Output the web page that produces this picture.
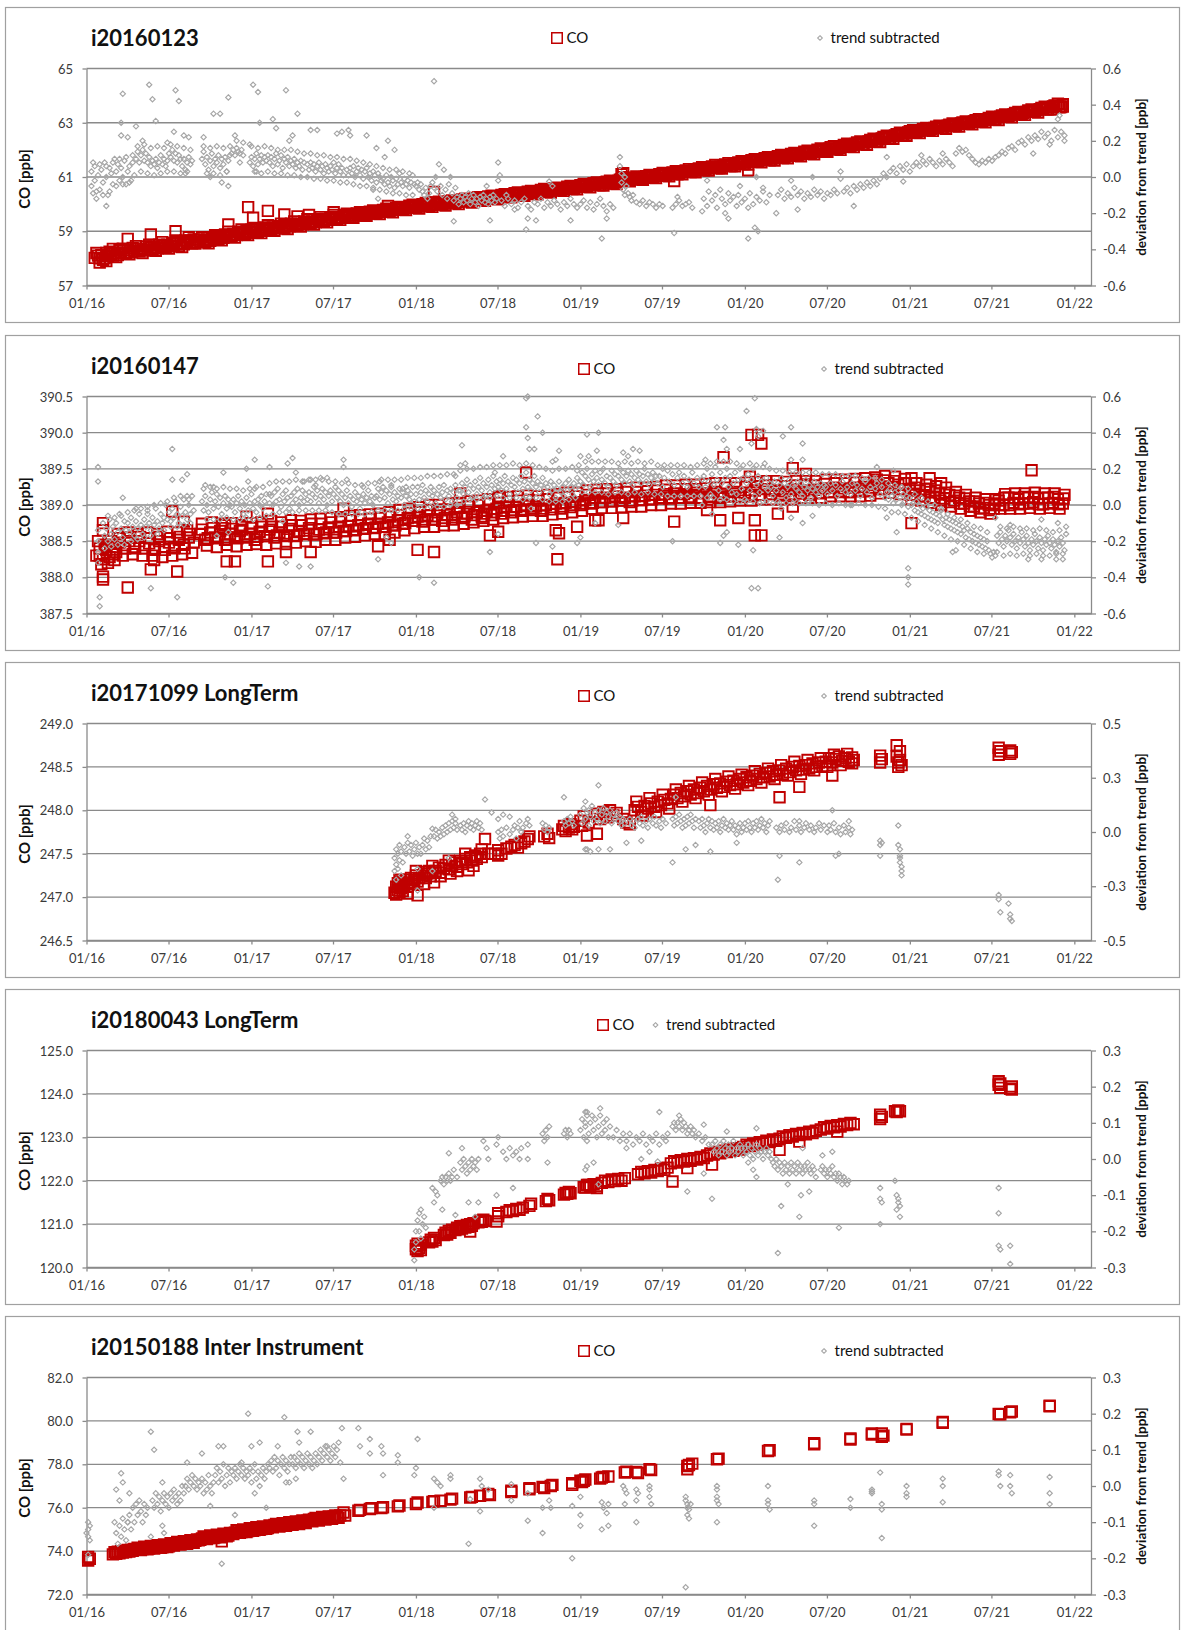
<!DOCTYPE html>
<html><head><meta charset="utf-8">
<script src="https://cdn.jsdelivr.net/npm/d3@7"></script>
<style>
body{margin:0;background:#fff}
svg text{font-family:Lato,"Open Sans","Liberation Sans",sans-serif}
</style></head>
<body><svg id="chart" width="1181" height="1630"></svg>
<script>
// x values: decimal year minus 2000 (e.g. 16.5 = mid 2016); CO on left axis [ppb]; trend on right axis [ppb]
const titles = ["i20160123","i20160147","i20171099 LongTerm","i20180043 LongTerm","i20150188 Inter Instrument"];
const seriesNames = ["CO","trend subtracted"];

const p1Left = [57,59,61,63,65];
const p1Right = [-0.6,-0.4,-0.2,0,0.2,0.4,0.6];
const p2Left = [387.5,388.0,388.5,389.0,389.5,390.0,390.5];
const p2Right = [-0.6,-0.4,-0.2,0,0.2,0.4,0.6];
const p3Left = [246.5,247.0,247.5,248.0,248.5,249.0];
const p3Right = [-0.5,-0.25,0,0.25,0.5];
const p4Left = [120,121,122,123,124,125];
const p4Right = [-0.3,-0.2,-0.1,0,0.1,0.2,0.3];
const p5Left = [72,74,76,78,80,82];
const p5Right = [-0.3,-0.2,-0.1,0,0.1,0.2,0.3];

const p1CO = [[16.05,58.02],[16.07,58.1],[16.09,58.12],[16.11,58.0],[16.13,58.08],[16.15,58.16],[16.17,58.2],[16.19,58.12],[16.21,58.22],[16.23,58.18],[16.25,58.3],[16.27,58.22],[16.29,58.27],[16.31,58.34],[16.33,58.36],[16.35,58.29],[16.37,58.33],[16.39,58.4],[16.41,58.42],[16.43,58.36],[16.45,58.4],[16.47,58.46],[16.49,58.5],[16.51,58.44],[16.53,58.47],[16.55,58.54],[16.57,58.57],[16.59,58.52],[16.61,58.6],[16.63,58.66],[16.65,58.7],[16.67,58.6],[16.69,58.62],[16.71,58.66],[16.73,58.7],[16.75,58.65],[16.77,58.72],[16.79,58.77],[16.81,58.8],[16.83,58.76],[16.85,58.82],[16.87,58.86],[16.89,58.9],[16.91,58.86],[16.93,58.93],[16.95,58.97],[16.97,59.0],[16.99,58.94],[17.01,58.98],[17.03,59.04],[17.05,59.07],[17.07,59.02],[17.09,59.08],[17.11,59.12],[17.13,59.14],[17.15,59.1],[17.17,59.15],[17.19,59.19],[17.21,59.2],[17.23,59.17],[17.25,59.22],[17.27,59.26],[17.29,59.28],[17.31,59.25],[17.33,59.3],[17.35,59.34],[17.37,59.36],[17.39,59.33],[17.41,59.4],[17.43,59.44],[17.45,59.45],[17.47,59.42],[17.49,59.5],[17.51,59.48],[17.53,59.52],[17.55,59.5],[17.57,59.56],[17.59,59.53],[17.61,59.58],[17.63,59.6],[17.65,59.62],[17.67,59.58],[17.69,59.63],[17.71,59.66],[17.73,59.68],[17.75,59.65],[17.77,59.7],[17.79,59.73],[17.81,59.75],[17.83,59.72],[17.85,59.78],[17.87,59.8],[17.89,59.82],[17.91,59.79],[17.93,59.84],[17.95,59.88],[17.97,59.9],[17.99,59.86],[18.01,59.91],[18.03,59.94],[18.05,59.95],[18.07,59.92],[18.09,59.97],[18.11,60.0],[18.13,60.0],[18.15,59.98],[18.17,60.02],[18.19,60.05],[18.21,60.06],[18.23,60.03],[18.25,60.08],[18.27,60.11],[18.29,60.12],[18.31,60.1],[18.33,60.14],[18.35,60.17],[18.37,60.18],[18.39,60.15],[18.41,60.2],[18.43,60.23],[18.45,60.22],[18.47,60.2],[18.49,60.26],[18.51,60.29],[18.53,60.28],[18.55,60.26],[18.57,60.33],[18.59,60.36],[18.61,60.35],[18.63,60.33],[18.65,60.38],[18.67,60.41],[18.69,60.4],[18.71,60.38],[18.73,60.44],[18.75,60.47],[18.77,60.47],[18.79,60.45],[18.81,60.5],[18.83,60.53],[18.85,60.52],[18.87,60.5],[18.89,60.56],[18.91,60.59],[18.93,60.58],[18.95,60.56],[18.97,60.62],[18.99,60.65],[19.01,60.66],[19.03,60.64],[19.05,60.7],[19.07,60.73],[19.09,60.72],[19.11,60.7],[19.13,60.76],[19.15,60.79],[19.17,60.78],[19.19,60.76],[19.21,60.82],[19.23,60.85],[19.25,60.92],[19.27,60.88],[19.29,60.9],[19.31,60.94],[19.33,60.93],[19.35,60.91],[19.37,60.96],[19.39,61.0],[19.41,60.99],[19.43,60.97],[19.45,61.02],[19.47,61.05],[19.49,61.06],[19.51,61.04],[19.53,61.1],[19.55,61.13],[19.57,61.12],[19.59,61.1],[19.61,61.17],[19.63,61.2],[19.65,61.2],[19.67,61.18],[19.69,61.24],[19.71,61.27],[19.73,61.27],[19.75,61.25],[19.77,61.31],[19.79,61.34],[19.81,61.35],[19.83,61.33],[19.85,61.38],[19.87,61.42],[19.89,61.42],[19.91,61.4],[19.93,61.46],[19.95,61.5],[19.97,61.5],[19.99,61.48],[20.01,61.54],[20.03,61.57],[20.05,61.58],[20.07,61.56],[20.09,61.62],[20.11,61.65],[20.13,61.64],[20.15,61.62],[20.17,61.69],[20.19,61.72],[20.21,61.72],[20.23,61.7],[20.25,61.76],[20.27,61.79],[20.29,61.8],[20.31,61.78],[20.33,61.83],[20.35,61.87],[20.37,61.88],[20.39,61.86],[20.41,61.92],[20.43,61.95],[20.45,61.96],[20.47,61.94],[20.49,62.0],[20.51,62.04],[20.53,62.05],[20.55,62.03],[20.57,62.08],[20.59,62.12],[20.61,62.14],[20.63,62.12],[20.65,62.18],[20.67,62.22],[20.69,62.22],[20.71,62.2],[20.73,62.28],[20.75,62.31],[20.77,62.33],[20.79,62.31],[20.81,62.38],[20.83,62.42],[20.85,62.44],[20.87,62.42],[20.89,62.5],[20.91,62.53],[20.93,62.55],[20.95,62.53],[20.97,62.6],[20.99,62.64],[21.01,62.66],[21.03,62.64],[21.05,62.7],[21.07,62.73],[21.09,62.74],[21.11,62.72],[21.13,62.78],[21.15,62.81],[21.17,62.82],[21.19,62.8],[21.21,62.86],[21.23,62.89],[21.25,62.9],[21.27,62.88],[21.29,62.94],[21.31,62.97],[21.33,62.98],[21.35,62.96],[21.37,63.02],[21.39,63.05],[21.41,63.06],[21.43,63.04],[21.45,63.1],[21.47,63.13],[21.49,63.14],[21.51,63.13],[21.53,63.19],[21.55,63.22],[21.57,63.23],[21.59,63.22],[21.61,63.28],[21.63,63.31],[21.65,63.32],[21.67,63.31],[21.69,63.37],[21.71,63.4],[21.73,63.42],[21.75,63.41],[21.77,63.46],[21.79,63.5],[21.81,63.52],[21.83,63.5],[21.85,63.57],[21.87,63.6],[21.89,63.62],[21.91,63.6],[21.93,63.68],[21.93,63.6],
[16.98,59.89],[17.1,59.75],[17.01,59.5],[17.2,59.62],[17.28,59.55],[16.25,58.72],[16.39,58.88],[16.54,59.0],[16.86,59.25],[18.11,60.45],[17.83,59.93],[19.26,61.14],[19.57,60.85],[20.02,61.25],[16.08,57.85],[16.12,57.9],[16.16,58.35],[17.35,59.6],[17.5,59.7],[19.25,61.1],
[16.06,58.2],[16.1,57.95],[16.14,58.25],[16.18,58.05],[16.22,58.36],[16.26,58.15],[16.3,58.45],[16.34,58.2],[16.38,58.5],[16.42,58.28],[16.46,58.6],[16.5,58.36],[16.54,58.66],[16.58,58.42],[16.62,58.78],[16.66,58.55],[16.7,58.78],[16.74,58.56],[16.78,58.85],[16.82,58.67],[16.86,58.98],[16.9,58.77],[16.94,59.07],[16.98,58.86],[17.02,59.12],[17.06,58.93],[17.1,59.22],[17.14,59.02],[17.18,59.28],[17.22,59.08],[17.26,59.36],[17.3,59.17],[17.34,59.44],[17.38,59.25],[17.42,59.52],[17.46,59.33],[17.5,59.6],[17.54,59.42],[17.58,59.65],[17.62,59.5],[17.66,59.7],[17.7,59.57],[17.74,59.77],[17.78,59.63],[17.82,59.83],[17.86,59.7],[17.9,59.9],[17.94,59.78],[17.98,59.98],[18.02,59.84],[18.06,60.04],[18.1,59.9],[18.14,60.09],[18.18,59.95],[18.22,60.14],[18.26,60.0],[18.3,60.2],[18.34,60.06],[18.38,60.26],[18.42,60.12],[18.46,60.31],[18.5,60.18],[18.54,60.37],[18.58,60.25],[18.62,60.43],[18.66,60.31],[18.7,60.49],[18.74,60.36],[18.78,60.56],[18.82,60.43],[18.86,60.61],[18.9,60.49],[18.94,60.67],[18.98,60.55],[19.02,60.74],[19.06,60.62],[19.1,60.8],[19.14,60.68],[19.18,60.86],[19.22,60.74],[19.26,60.99],[19.3,60.84],[19.34,61.02],[19.38,60.9],[19.42,61.08],[19.46,60.96],[19.5,61.15],[19.54,61.03],[19.58,61.21],[19.62,61.1],[19.66,61.29],[19.7,61.17],[19.74,61.36],[19.78,61.24],[19.82,61.44],[19.86,61.31],[19.9,61.51],[19.94,61.39],[19.98,61.58],[20.02,61.46],[20.06,61.66],[20.1,61.54],[20.14,61.73],[20.18,61.61],[20.22,61.81],[20.26,61.69],[20.3,61.89],[20.34,61.76],[20.38,61.97],[20.42,61.84],[20.46,62.05],[20.5,61.93],[20.54,62.14],[20.58,62.0],[20.62,62.23],[20.66,62.1],[20.7,62.31],[20.74,62.19],[20.78,62.41],[20.82,62.29],[20.86,62.52],[20.9,62.41],[20.94,62.63],[20.98,62.52],[21.02,62.73],[21.06,62.62],[21.1,62.81],[21.14,62.7],[21.18,62.89],[21.22,62.78],[21.26,62.97],[21.3,62.86],[21.34,63.05],[21.38,62.94],[21.42,63.13],[21.46,63.02],[21.5,63.22],[21.54,63.1],[21.58,63.31],[21.62,63.2],[21.66,63.4],[21.7,63.29],[21.74,63.49],[21.78,63.38],[21.82,63.59],[21.86,63.49],[21.9,63.7],[21.92,63.58],
[16.08,58.0],[16.12,58.2],[16.16,58.1],[16.2,58.3],[16.24,58.2],[16.28,58.38],[16.32,58.26],[16.36,58.44],[16.4,58.32],[16.44,58.5],[16.48,58.4],[16.52,58.56],[16.56,58.46],[16.6,58.66],[16.64,58.56],[16.68,58.7],[16.72,58.6],[16.76,58.78],[16.8,58.7],[16.84,58.88],[16.88,58.8],[16.92,58.98],[16.96,58.9],[17.0,59.06],[17.04,58.98],[17.08,59.14],[17.12,59.06],[17.16,59.2],[17.2,59.13],[17.24,59.28],[17.28,59.2],[17.32,59.36],[17.36,59.28],[17.4,59.44],[17.44,59.38],[17.48,59.52],[17.52,59.46],[17.56,59.6],[17.6,59.52],[17.64,59.66],[17.68,59.58],[17.72,59.72],[17.76,59.65],[17.8,59.79],[17.84,59.73],[17.88,59.86],[17.92,59.8],[17.96,59.94],[18.0,59.87],[18.04,60.0],[18.08,59.93],[18.12,60.06],[18.16,59.99],[18.2,60.11],[18.24,60.04],[18.28,60.17],[18.32,60.1],[18.36,60.23],[18.4,60.16],[18.44,60.28],[18.48,60.21],[18.52,60.34],[18.56,60.28],[18.6,60.4],[18.64,60.34],[18.68,60.46],[18.72,60.4],[18.76,60.52],[18.8,60.46],[18.84,60.58],[18.88,60.52],[18.92,60.64],[18.96,60.58],[19.0,60.7],[19.04,60.64],[19.08,60.77],[19.12,60.7],[19.16,60.83],[19.2,60.77],[19.24,60.9],[19.28,60.86],[19.32,60.97],[19.36,60.92],[19.4,61.03],[19.44,60.98],[19.48,61.1],[19.52,61.05],[19.56,61.17],[19.6,61.12],[19.64,61.24],[19.68,61.19],[19.72,61.32],[19.76,61.26],[19.8,61.39],[19.84,61.33],[19.88,61.46],[19.92,61.4],[19.96,61.54],[20.0,61.48],[20.04,61.62],[20.08,61.56],[20.12,61.69],[20.16,61.63],[20.2,61.77],[20.24,61.71],[20.28,61.85],[20.32,61.78],[20.36,61.93],[20.4,61.86],[20.44,62.01],[20.48,61.95],[20.52,62.1],[20.56,62.02],[20.6,62.18],[20.64,62.12],[20.68,62.27],[20.72,62.21],[20.76,62.37],[20.8,62.31],[20.84,62.48],[20.88,62.43],[20.92,62.58],[20.96,62.54],[21.0,62.69],[21.04,62.64],[21.08,62.77],[21.12,62.72],[21.16,62.85],[21.2,62.8],[21.24,62.93],[21.28,62.88],[21.32,63.01],[21.36,62.96],[21.4,63.09],[21.44,63.04],[21.48,63.18],[21.52,63.12],[21.56,63.27],[21.6,63.22],[21.64,63.36],[21.68,63.31],[21.72,63.45],[21.76,63.4],[21.8,63.55],[21.84,63.5],[21.88,63.64],[21.91,63.57]];

const p1Trend = [[16.03,-0.05],[16.03,0.03],[16.04,-0.09],[16.05,-0.02],[16.05,0.06],[16.06,-0.12],[16.07,0.01],[16.08,-0.07],[16.09,0.04],[16.1,-0.03],[16.11,0.08],[16.12,-0.16],[16.12,0.0],[16.13,-0.1],[16.14,0.05],[16.15,0.02],[16.16,-0.04],[16.17,0.1],[16.18,0.03],[16.19,0.07],[16.2,-0.02],[16.21,0.05],[16.22,0.0],[16.23,0.09],[16.24,-0.04],[16.25,0.03],[16.26,0.06],[16.27,-0.02],[16.28,0.08],[16.29,0.01],[16.21,0.3],[16.22,0.46],[16.21,0.23],[16.25,0.22],[16.3,0.28],[16.34,0.2],[16.3,0.1],[16.31,0.14],[16.32,0.08],[16.33,0.12],[16.34,0.15],[16.35,0.09],[16.36,0.13],[16.37,0.08],[16.38,0.11],[16.39,0.06],[16.4,0.09],[16.41,0.07],[16.42,0.1],[16.43,0.05],[16.44,0.08],[16.45,0.12],[16.46,0.07],[16.47,0.1],[16.48,0.06],[16.49,0.09],[16.5,0.13],[16.38,0.51],[16.4,0.43],[16.42,0.31],[16.49,0.19],[16.51,0.11],[16.52,0.15],[16.53,0.09],[16.54,0.13],[16.55,0.08],[16.56,0.12],[16.57,0.1],[16.58,0.06],[16.59,0.1],[16.6,0.04],[16.61,0.08],[16.62,0.11],[16.63,0.07],[16.64,0.09],[16.54,0.48],[16.56,0.42],[16.53,0.25],[16.59,0.23],[16.62,0.22],[16.6,0.02],[16.7,0.1],[16.71,0.14],[16.72,0.07],[16.73,0.11],[16.74,0.04],[16.75,0.09],[16.76,0.13],[16.77,0.06],[16.78,0.1],[16.79,0.08],[16.8,0.12],[16.81,0.05],[16.82,0.1],[16.83,0.07],[16.84,0.11],[16.85,0.03],[16.86,0.09],[16.87,0.12],[16.71,0.22],[16.77,0.35],[16.81,0.35],[16.86,0.44],[16.9,0.23],[16.75,0.0],[16.82,-0.03],[16.86,-0.05],[16.88,0.13],[16.89,0.15],[16.9,0.12],[16.91,0.16],[16.92,0.14],[16.93,0.13],[16.94,0.15],[16.95,0.12],[16.99,0.08],[17.0,0.11],[17.01,0.06],[17.02,0.1],[17.03,0.13],[17.04,0.07],[17.05,0.1],[17.06,0.12],[17.07,0.08],[17.08,0.11],[17.09,0.09],[17.1,0.12],[17.01,0.51],[17.04,0.47],[17.05,0.3],[17.03,0.03],[17.13,0.32],[17.15,0.27],[16.99,0.18],[17.11,0.08],[17.12,0.11],[17.13,0.06],[17.14,0.1],[17.15,0.13],[17.16,0.07],[17.17,0.09],[17.18,0.12],[17.19,0.05],[17.2,0.1],[17.21,0.08],[17.22,0.11],[17.23,0.06],[17.24,0.09],[17.25,0.07],[17.26,0.1],[17.27,0.05],[17.28,0.08],[17.29,0.06],[17.3,0.09],[17.31,0.04],[17.32,0.08],[17.21,0.48],[17.28,0.35],[17.25,0.23],[17.23,0.2],[17.34,0.07],[17.35,0.04],[17.36,0.08],[17.37,0.05],[17.38,0.07],[17.39,0.03],[17.4,0.06],[17.41,0.08],[17.42,0.04],[17.43,0.06],[17.44,0.02],[17.45,0.07],[17.46,0.05],[17.47,0.03],[17.48,0.06],[17.49,0.04],[17.5,0.08],[17.51,0.02],[17.52,0.05],[17.53,0.07],[17.54,0.03],[17.55,0.05],[17.56,0.01],[17.36,0.26],[17.4,0.26],[17.52,0.24],[17.55,0.25],[17.59,0.26],[17.6,0.23],[17.58,0.04],[17.59,0.01],[17.6,0.05],[17.61,0.02],[17.62,0.06],[17.63,0.0],[17.64,0.03],[17.65,0.05],[17.66,0.01],[17.67,0.04],[17.68,-0.01],[17.69,0.03],[17.7,0.05],[17.71,0.0],[17.72,0.02],[17.73,-0.02],[17.74,0.03],[17.75,0.01],[17.76,-0.03],[17.77,0.02],[17.78,0.0],[17.79,-0.02],[17.7,0.23],[17.76,0.16],[17.83,0.2],[17.87,0.15],[17.74,-0.07],[17.77,-0.12],[17.81,0.11],[17.8,-0.01],[17.81,-0.04],[17.82,0.01],[17.83,-0.03],[17.84,-0.05],[17.85,0.0],[17.86,-0.02],[17.87,-0.06],[17.88,-0.01],[17.89,-0.04],[17.9,0.02],[17.91,-0.03],[17.92,-0.05],[17.93,-0.01],[17.94,-0.04],[17.95,-0.02],[17.96,-0.06],[17.97,-0.03],[17.98,0.01],[17.99,-0.04],[18.0,-0.05],[18.01,-0.03],[18.02,-0.07],[18.03,-0.04],[18.04,-0.08],[18.05,-0.1],[18.06,-0.06],[18.07,-0.12],[18.08,-0.09],[18.09,-0.05],[18.11,0.53],[18.1,-0.03],[18.11,-0.06],[18.12,0.0],[18.13,-0.08],[18.14,0.07],[18.15,-0.05],[18.16,-0.1],[18.17,0.04],[18.18,-0.07],[18.19,-0.12],[18.2,-0.04],[18.21,0.0],[18.22,-0.09],[18.23,-0.13],[18.24,-0.06],[18.25,-0.11],[18.26,-0.15],[18.27,-0.12],[18.28,-0.1],[18.29,-0.14],[18.3,-0.11],[18.31,-0.13],[18.32,-0.09],[18.33,-0.15],[18.34,-0.12],[18.35,-0.1],[18.36,-0.14],[18.37,-0.12],[18.38,-0.16],[18.39,-0.11],[18.4,-0.13],[18.41,-0.1],[18.42,-0.14],[18.43,-0.12],[18.44,-0.15],[18.45,-0.11],[18.46,-0.13],[18.47,-0.1],[18.48,-0.14],[18.49,-0.12],[18.23,-0.245],[18.45,-0.24],[18.43,-0.05],[18.5,0.08],[18.51,0.01],[18.5,-0.02],[18.52,-0.13],[18.54,-0.16],[18.56,-0.12],[18.58,-0.15],[18.6,-0.13],[18.62,-0.17],[18.64,-0.14],[18.66,-0.12],[18.68,-0.16],[18.7,-0.18],[18.72,-0.14],[18.74,-0.15],[18.76,-0.12],[18.78,-0.17],[18.8,-0.14],[18.82,-0.16],[18.84,-0.13],[18.86,-0.15],[18.88,-0.18],[18.9,-0.14],[18.92,-0.16],[18.94,-0.12],[18.96,-0.15],[18.98,-0.17],[18.55,-0.1],[18.6,-0.18],[18.67,-0.29],[18.68,-0.23],[18.73,-0.24],[18.81,-0.025],[18.83,-0.05],[18.94,-0.24],[19.0,-0.15],[19.02,-0.13],[19.04,-0.17],[19.06,-0.14],[19.08,-0.18],[19.1,-0.15],[19.12,-0.12],[19.14,-0.16],[19.16,-0.19],[19.18,-0.15],[19.2,-0.17],[19.13,-0.34],[19.16,-0.23],[19.24,0.11],[19.24,0.06],[19.25,0.02],[19.25,-0.03],[19.26,-0.07],[19.27,0.0],[19.27,-0.1],[19.28,-0.05],[19.29,-0.09],[19.3,-0.11],[19.31,-0.13],[19.32,-0.1],[19.34,-0.14],[19.36,-0.15],[19.38,-0.13],[19.4,-0.16],[19.42,-0.14],[19.44,-0.15],[19.46,-0.17],[19.48,-0.15],[19.5,-0.16],[19.56,-0.17],[19.58,-0.15],[19.6,-0.13],[19.62,-0.16],[19.64,-0.15],[19.66,-0.14],[19.68,-0.17],[19.57,-0.31],[19.59,-0.11],[19.74,-0.19],[19.75,-0.12],[19.77,-0.16],[19.78,-0.08],[19.8,-0.13],[19.82,-0.1],[19.83,-0.17],[19.85,-0.07],[19.86,-0.12],[19.88,-0.15],[19.9,-0.09],[19.91,-0.13],[19.93,-0.11],[19.95,-0.16],[19.96,-0.1],[19.98,-0.14],[20.0,-0.12],[20.02,-0.17],[20.03,-0.09],[20.05,-0.15],[20.07,-0.11],[20.09,-0.13],[20.11,-0.08],[20.13,-0.14],[20.15,-0.1],[19.77,-0.02],[19.9,-0.23],[19.88,-0.2],[19.97,-0.05],[20.02,-0.34],[20.06,-0.28],[20.08,-0.3],[20.07,0.0],[20.11,-0.06],[20.2,-0.1],[20.22,-0.07],[20.24,-0.12],[20.26,-0.09],[20.28,-0.11],[20.3,-0.06],[20.32,-0.1],[20.34,-0.08],[20.36,-0.12],[20.38,-0.09],[20.4,-0.11],[20.42,-0.07],[20.44,-0.1],[20.46,-0.08],[20.48,-0.12],[20.5,-0.09],[20.52,-0.1],[20.54,-0.07],[20.56,-0.09],[20.19,-0.2],[20.28,-0.02],[20.41,0.0],[20.32,-0.18],[20.58,0.03],[20.58,-0.01],[20.6,-0.08],[20.62,-0.06],[20.64,-0.09],[20.66,-0.05],[20.68,-0.07],[20.7,-0.04],[20.72,-0.06],[20.74,-0.03],[20.76,-0.05],[20.78,-0.02],[20.8,-0.04],[20.82,-0.01],[20.84,0.02],[20.86,0.0],[20.66,-0.16],[20.86,0.11],[20.88,0.03],[20.9,0.05],[20.92,0.02],[20.94,0.06],[20.96,0.04],[20.98,0.07],[21.0,0.03],[21.02,0.06],[21.04,0.08],[20.96,-0.025],[21.06,0.06],[21.08,0.09],[21.1,0.07],[21.12,0.1],[21.14,0.08],[21.16,0.06],[21.18,0.09],[21.2,0.07],[21.22,0.1],[21.24,0.08],[21.26,0.06],[21.07,0.12],[21.2,0.13],[21.28,0.13],[21.3,0.16],[21.32,0.14],[21.34,0.15],[21.36,0.12],[21.38,0.1],[21.4,0.08],[21.42,0.07],[21.44,0.09],[21.46,0.08],[21.48,0.1],[21.5,0.09],[21.52,0.11],[21.54,0.12],[21.56,0.14],[21.58,0.13],[21.6,0.16],[21.62,0.17],[21.64,0.15],[21.66,0.19],[21.68,0.2],[21.7,0.18],[21.72,0.22],[21.74,0.2],[21.75,0.13],[21.76,0.23],[21.78,0.21],[21.8,0.25],[21.82,0.22],[21.84,0.24],[21.86,0.2],[21.88,0.26],[21.9,0.22],[21.92,0.25],[21.94,0.23],[21.91,0.34],[21.9,0.32],[21.94,0.2],[21.85,0.18],
[16.04,0.08],[16.06,-0.08],[16.08,0.07],[16.1,-0.1],[16.12,0.06],[16.14,-0.08],[16.16,0.08],[16.18,-0.05],[16.2,0.1],[16.22,-0.04],[16.24,0.11],[16.26,-0.03],[16.28,0.12],[16.31,0.17],[16.33,0.03],[16.35,0.18],[16.37,0.02],[16.39,0.16],[16.41,0.01],[16.43,0.17],[16.45,0.02],[16.47,0.16],[16.49,0.03],[16.51,0.18],[16.53,0.03],[16.55,0.17],[16.57,0.02],[16.59,0.16],[16.61,0.03],[16.63,0.15],[16.71,0.17],[16.73,0.02],[16.75,0.16],[16.77,0.02],[16.79,0.17],[16.81,0.01],[16.83,0.16],[16.85,0.03],[16.87,0.17],[16.91,0.2],[16.93,0.08],[16.95,0.19],[17.0,0.17],[17.02,0.03],[17.04,0.16],[17.06,0.02],[17.08,0.17],[17.1,0.03],[17.12,0.16],[17.14,0.02],[17.16,0.15],[17.18,0.02],[17.2,0.15],[17.22,0.01],[17.24,0.15],[17.26,0.01],[17.28,0.14],[17.3,0.0],[17.32,0.13],[17.34,0.0],[17.36,0.13],[17.38,-0.01],[17.4,0.12],[17.42,-0.01],[17.44,0.12],[17.46,-0.02],[17.48,0.11],[17.5,-0.02],[17.52,0.11],[17.54,-0.03],[17.56,0.1],[17.58,-0.03],[17.6,0.1],[17.62,-0.04],[17.64,0.09],[17.66,-0.05],[17.68,0.08],[17.7,-0.05],[17.72,0.07],[17.74,-0.06],[17.76,0.06],[17.78,-0.07],[17.8,0.05],[17.82,-0.08],[17.84,0.04],[17.86,-0.09],[17.88,0.04],[17.9,-0.09],[17.92,0.03],[17.94,-0.1],[17.96,0.02],[17.98,-0.1]];

const p2CO = [[16.06,388.3],[16.08,388.4],[16.1,388.25],[16.12,388.38],[16.14,388.28],[16.16,388.42],[16.18,388.35],[16.2,388.48],[16.23,388.4],[16.26,388.5],[16.29,388.42],[16.32,388.5],[16.35,388.4],[16.38,388.47],[16.41,388.38],[16.44,388.5],[16.47,388.42],[16.5,388.48],[16.53,388.4],[16.56,388.52],[16.59,388.45],[16.62,388.55],[16.65,388.48],[16.69,388.6],[16.72,388.52],[16.75,388.62],[16.78,388.55],[16.81,388.64],[16.84,388.52],[16.87,388.6],[16.9,388.55],[16.93,388.64],[16.96,388.56],[16.99,388.6],[17.02,388.52],[17.05,388.63],[17.08,388.57],[17.11,388.66],[17.14,388.55],[17.17,388.62],[17.2,388.58],[17.23,388.67],[17.26,388.57],[17.29,388.64],[17.32,388.6],[17.35,388.68],[17.38,388.59],[17.41,388.66],[17.44,388.61],[17.47,388.69],[17.5,388.62],[17.53,388.7],[17.56,388.64],[17.59,388.71],[17.62,388.65],[17.65,388.72],[17.68,388.67],[17.71,388.74],[17.74,388.68],[17.77,388.74],[17.8,388.7],[17.83,388.76],[17.86,388.72],[17.89,388.79],[17.92,388.74],[17.95,388.82],[17.98,388.78],[18.01,388.84],[18.04,388.77],[18.07,388.86],[18.1,388.8],[18.13,388.9],[18.16,388.78],[18.19,388.86],[18.22,388.8],[18.25,388.9],[18.28,388.82],[18.31,388.88],[18.34,388.8],[18.37,388.9],[18.4,388.84],[18.43,388.92],[18.46,388.86],[18.49,388.95],[18.52,388.88],[18.55,388.98],[18.58,388.9],[18.61,388.97],[18.64,388.92],[18.67,389.0],[18.7,388.93],[18.73,388.98],[18.76,388.92],[18.79,389.0],[18.82,388.94],[18.85,389.02],[18.88,388.95],[18.91,389.03],[18.94,388.97],[18.97,389.04],[19.0,389.0],[19.03,389.07],[19.06,389.02],[19.09,389.1],[19.12,389.04],[19.15,389.1],[19.18,389.05],[19.21,389.12],[19.24,389.06],[19.27,389.1],[19.3,389.04],[19.33,389.12],[19.36,389.07],[19.39,389.13],[19.42,389.08],[19.45,389.14],[19.48,389.1],[19.51,389.15],[19.54,389.09],[19.57,389.16],[19.6,389.1],[19.63,389.15],[19.66,389.11],[19.69,389.17],[19.72,389.1],[19.75,389.16],[19.78,389.12],[19.81,389.18],[19.84,389.1],[19.87,389.15],[19.9,389.12],[19.93,389.18],[19.96,389.11],[20.0,389.17],[20.03,389.12],[20.06,389.2],[20.09,389.14],[20.12,389.22],[20.15,389.15],[20.18,389.2],[20.21,389.13],[20.24,389.19],[20.27,389.15],[20.3,389.22],[20.33,389.16],[20.36,389.2],[20.39,389.14],[20.42,389.21],[20.45,389.17],[20.48,389.23],[20.51,389.18],[20.54,389.24],[20.57,389.19],[20.6,389.23],[20.63,389.18],[20.66,389.24],[20.69,389.2],[20.72,389.25],[20.75,389.19],[20.78,389.24],[20.81,389.28],[20.84,389.22],[20.87,389.3],[20.9,389.24],[20.93,389.28],[20.96,389.22],[21.0,389.2],[21.03,389.14],[21.06,389.2],[21.09,389.12],[21.12,389.18],[21.15,389.1],[21.18,389.16],[21.21,389.09],[21.24,389.14],[21.27,389.06],[21.3,389.1],[21.33,389.02],[21.36,389.05],[21.39,388.98],[21.42,389.02],[21.45,388.96],[21.48,389.0],[21.51,388.95],[21.54,389.06],[21.57,389.0],[21.6,389.1],[21.63,389.03],[21.66,389.08],[21.69,389.02],[21.72,389.1],[21.75,389.04],[21.78,389.09],[21.81,389.01],[21.84,389.1],[21.87,389.03],[21.9,389.08],[21.93,389.02],
[16.1,388.75],[16.1,388.65],[16.1,388.01],[16.1,387.97],[16.25,387.86],[16.39,388.11],[16.41,388.24],[16.55,388.08],[16.52,388.91],[16.59,388.77],[16.84,388.72],[16.85,388.22],[16.9,388.22],[16.97,388.84],[17.1,388.88],[17.1,388.22],[17.21,388.35],[17.36,388.35],[17.56,388.95],[17.77,388.43],[17.84,388.52],[18.01,388.38],[18.11,388.35],[18.27,389.16],[18.41,388.82],[18.45,388.58],[18.5,388.63],[18.51,389.12],[18.67,389.45],[18.85,388.65],[18.87,388.61],[18.86,388.25],[18.98,388.7],[19.09,388.79],[19.11,388.79],[19.26,388.82],[19.57,388.77],[19.77,388.93],[19.85,388.79],[19.96,388.82],[19.87,389.66],[20.04,389.97],[20.08,389.97],[20.1,389.85],[20.03,389.39],[20.06,388.58],[20.1,388.58],[20.06,388.79],[20.2,388.88],[20.29,389.51],[20.37,389.43],[20.29,388.98],[20.8,389.35],[21.01,389.37],[21.01,388.75],[21.12,389.37],[21.19,389.3],[21.74,389.48],
[16.07,388.5],[16.09,388.18],[16.11,388.45],[16.13,388.2],[16.15,388.5],[16.17,388.24],[16.19,388.6],[16.22,388.3],[16.25,388.62],[16.28,388.32],[16.31,388.6],[16.34,388.3],[16.37,388.62],[16.4,388.3],[16.43,388.6],[16.46,388.28],[16.49,388.63],[16.52,388.3],[16.55,388.62],[16.58,388.32],[16.61,388.65],[16.64,388.34],[16.7,388.74],[16.73,388.44],[16.76,388.76],[16.79,388.42],[16.82,388.74],[16.85,388.45],[16.88,388.75],[16.91,388.43],[16.94,388.72],[16.97,388.45],[17.0,388.75],[17.03,388.46],[17.06,388.76],[17.09,388.45],[17.12,388.78],[17.15,388.47],[17.18,388.76],[17.21,388.46],[17.24,388.79],[17.27,388.48],[17.3,388.78],[17.33,388.5],[17.36,388.8],[17.39,388.49],[17.42,388.81],[17.45,388.52],[17.48,388.82],[17.51,388.52],[17.54,388.83],[17.57,388.55],[17.6,388.85],[17.63,388.56],[17.66,388.86],[17.69,388.58],[17.72,388.87],[17.75,388.6],[17.78,388.88],[17.81,388.6],[17.84,388.9],[17.87,388.62],[17.9,388.93],[17.93,388.65],[17.96,388.95],[17.99,388.68],[18.02,388.97],[18.05,388.7],[18.08,389.0],[18.11,388.7],[18.14,389.0],[18.17,388.72],[18.2,389.02],[18.23,388.72],[18.26,389.03],[18.29,388.74],[18.32,389.05],[18.35,388.76],[18.38,389.06],[18.41,388.78],[18.44,389.08],[18.47,388.8],[18.5,389.1],[18.53,388.82],[18.56,389.11],[18.59,388.83],[18.62,389.12],[18.65,388.84],[18.68,389.13],[18.71,388.85],[18.74,389.12],[18.77,388.85],[18.8,389.14],[18.83,388.87],[18.86,389.15],[18.89,388.88],[18.92,389.17],[18.95,388.9],[18.98,389.17],[19.01,388.92],[19.04,389.2],[19.07,388.95],[19.1,389.21],[19.13,388.96],[19.16,389.22],[19.19,388.96],[19.22,389.22],[19.25,388.97],[19.28,389.23],[19.31,388.98],[19.34,389.24],[19.37,388.98],[19.4,389.24],[19.43,389.0],[19.46,389.25],[19.49,389.0],[19.52,389.27],[19.55,389.02],[19.58,389.27],[19.61,389.02],[19.64,389.28],[19.67,389.03],[19.7,389.28],[19.73,389.03],[19.76,389.29],[19.79,389.04],[19.82,389.3],[19.85,389.04],[19.88,389.3],[19.91,389.05],[19.94,389.3],[19.97,389.06],[20.01,389.31],[20.04,389.06],[20.07,389.32],[20.1,389.08],[20.13,389.33],[20.16,389.08],[20.19,389.33],[20.22,389.08],[20.25,389.32],[20.28,389.08],[20.31,389.33],[20.34,389.1],[20.37,389.33],[20.4,389.1],[20.43,389.33],[20.46,389.1],[20.49,389.35],[20.52,389.12],[20.55,389.35],[20.58,389.12],[20.61,389.35],[20.64,389.12],[20.67,389.36],[20.7,389.12],[20.73,389.37],[20.76,389.13],[20.79,389.38],[20.82,389.16],[20.85,389.4],[20.88,389.17],[20.91,389.39],[20.94,389.15],[20.97,389.36],[21.01,389.08],[21.04,389.3],[21.07,389.06],[21.1,389.28],[21.13,389.03],[21.16,389.26],[21.19,389.0],[21.22,389.24],[21.25,388.98],[21.28,389.18],[21.31,388.95],[21.34,389.14],[21.37,388.92],[21.4,389.1],[21.43,388.9],[21.46,389.08],[21.49,388.88],[21.52,389.08],[21.55,388.95],[21.58,389.15],[21.61,388.95],[21.64,389.16],[21.67,388.95],[21.7,389.16],[21.73,388.96],[21.76,389.17],[21.79,388.95],[21.82,389.16],[21.85,388.96],[21.88,389.16],[21.91,388.95],[21.94,389.14],
[16.08,388.3],[16.12,388.42],[16.16,388.32],[16.2,388.54],[16.235,388.4],[16.265,388.55],[16.295,388.4],[16.325,388.56],[16.355,388.4],[16.385,388.54],[16.415,388.4],[16.445,388.56],[16.475,388.38],[16.505,388.54],[16.535,388.42],[16.565,388.56],[16.595,388.4],[16.625,388.6],[16.7,388.66],[16.735,388.54],[16.765,388.68],[16.795,388.54],[16.825,388.68],[16.855,388.55],[16.885,388.67],[16.915,388.54],[16.945,388.66],[16.975,388.55],[17.005,388.68],[17.035,388.56],[17.065,388.7],[17.095,388.57],[17.125,388.7],[17.155,388.58],[17.185,388.7],[17.215,388.57],[17.245,388.72],[17.275,388.58],[17.305,388.72],[17.335,388.6],[17.365,388.74],[17.395,388.6],[17.425,388.74],[17.455,388.62],[17.485,388.76],[17.515,388.62],[17.545,388.77],[17.575,388.64],[17.605,388.79],[17.635,388.66],[17.665,388.8],[17.695,388.68],[17.725,388.81],[17.755,388.69],[17.785,388.82],[17.815,388.7],[17.845,388.84],[17.875,388.72],[17.905,388.86],[17.935,388.75],[17.965,388.89],[17.995,388.78],[18.025,388.9],[18.055,388.8],[18.085,388.93],[18.115,388.8],[18.145,388.94],[18.175,388.82],[18.205,388.94],[18.235,388.83],[18.265,388.96],[18.295,388.84],[18.325,388.98],[18.355,388.86],[18.385,389.0],[18.415,388.88],[18.445,389.02],[18.475,388.9],[18.505,389.03],[18.535,388.92],[18.565,389.05],[18.595,388.93],[18.625,389.06],[18.655,388.94],[18.685,389.07],[18.715,388.95],[18.745,389.06],[18.775,388.95],[18.805,389.08],[18.835,388.97],[18.865,389.1],[18.895,388.98],[18.925,389.11],[18.955,389.0],[18.985,389.12],[19.015,389.02],[19.045,389.14],[19.075,389.03],[19.105,389.16],[19.135,389.04],[19.165,389.16],[19.195,389.05],[19.225,389.17],[19.255,389.06],[19.285,389.18],[19.315,389.06],[19.345,389.18],[19.375,389.07],[19.405,389.19],[19.435,389.08],[19.465,389.2],[19.495,389.09],[19.525,389.21],[19.555,389.1],[19.585,389.22],[19.615,389.1],[19.645,389.22],[19.675,389.1],[19.705,389.22],[19.735,389.1],[19.765,389.23],[19.795,389.11],[19.825,389.24],[19.855,389.11],[19.885,389.24],[19.915,389.12],[19.945,389.24],[19.975,389.12],[20.005,389.25],[20.035,389.14],[20.065,389.26],[20.095,389.14],[20.125,389.27],[20.155,389.15],[20.185,389.27],[20.215,389.15],[20.245,389.26],[20.275,389.15],[20.305,389.27],[20.335,389.16],[20.365,389.27],[20.395,389.16],[20.425,389.27],[20.455,389.16],[20.485,389.29],[20.515,389.18],[20.545,389.3],[20.575,389.18],[20.605,389.3],[20.635,389.18],[20.665,389.31],[20.695,389.19],[20.725,389.31],[20.755,389.2],[20.785,389.32],[20.815,389.22],[20.845,389.34],[20.875,389.23],[20.905,389.33],[20.935,389.22],[20.965,389.3],[21.005,389.14],[21.035,389.24],[21.065,389.12],[21.095,389.22],[21.125,389.1],[21.155,389.2],[21.185,389.06],[21.215,389.17],[21.245,389.04],[21.275,389.13],[21.305,389.02],[21.335,389.09],[21.365,388.98],[21.395,389.05],[21.425,388.95],[21.455,389.03],[21.485,388.93],[21.515,389.02],[21.545,389.0],[21.575,389.1],[21.605,389.0],[21.635,389.1],[21.665,389.01],[21.695,389.11],[21.725,389.02],[21.755,389.11],[21.785,389.01],[21.815,389.1],[21.845,389.02],[21.875,389.11],[21.905,389.01],[21.935,389.09]];

const p2Trend = [[16.07,0.21],[16.07,0.13],[16.07,-0.14],[16.07,-0.2],[16.07,-0.26],[16.07,-0.32],[16.08,-0.51],[16.08,-0.56],[16.1,-0.1],[16.11,-0.17],[16.12,-0.13],[16.13,-0.2],[16.14,-0.08],[16.15,-0.16],[16.16,-0.12],[16.17,-0.19],[16.18,-0.1],[16.19,-0.15],[16.2,-0.05],[16.21,-0.13],[16.22,-0.18],[16.23,-0.09],[16.24,-0.14],[16.25,-0.1],[16.26,-0.15],[16.27,-0.07],[16.28,-0.12],[16.29,-0.17],[16.3,-0.09],[16.31,-0.13],[16.32,-0.05],[16.33,-0.11],[16.34,-0.16],[16.35,-0.08],[16.36,-0.12],[16.37,-0.03],[16.38,-0.1],[16.39,-0.14],[16.4,-0.07],[16.41,-0.11],[16.42,-0.02],[16.43,-0.09],[16.44,-0.13],[16.45,-0.05],[16.46,-0.1],[16.47,-0.07],[16.48,0.0],[16.49,-0.08],[16.22,0.04],[16.3,-0.02],[16.37,-0.05],[16.39,-0.46],[16.52,0.31],[16.52,0.14],[16.55,-0.51],[16.58,0.14],[16.5,-0.04],[16.51,-0.09],[16.52,-0.02],[16.53,-0.07],[16.54,0.02],[16.55,-0.05],[16.56,-0.1],[16.57,-0.01],[16.58,-0.06],[16.59,0.03],[16.6,-0.04],[16.61,-0.08],[16.62,0.0],[16.63,-0.05],[16.64,0.05],[16.65,-0.03],[16.61,0.17],[16.62,0.03],[16.7,0.02],[16.71,-0.03],[16.72,0.05],[16.73,0.0],[16.74,-0.04],[16.75,0.03],[16.76,0.07],[16.77,-0.02],[16.78,0.02],[16.79,0.06],[16.8,-0.01],[16.81,0.04],[16.82,-0.05],[16.83,0.01],[16.84,0.05],[16.85,-0.02],[16.86,0.03],[16.87,0.0],[16.72,0.11],[16.77,0.1],[16.83,0.18],[16.84,-0.4],[16.89,-0.43],[16.79,-0.17],[16.86,-0.15],[16.88,-0.01],[16.89,0.03],[16.9,-0.04],[16.91,0.01],[16.92,0.05],[16.93,-0.02],[16.94,0.02],[16.95,-0.05],[16.96,0.0],[16.97,0.04],[16.98,-0.03],[16.99,0.01],[17.0,0.06],[17.01,-0.02],[17.02,0.02],[17.03,-0.04],[17.04,0.03],[17.05,0.0],[17.06,0.05],[17.07,-0.02],[17.08,0.02],[17.09,0.06],[16.97,0.2],[17.02,0.25],[16.98,0.13],[17.02,0.09],[17.1,-0.45],[17.11,0.21],[17.11,0.06],[17.11,0.01],[17.12,0.05],[17.13,0.0],[17.14,0.07],[17.15,0.02],[17.16,0.09],[17.17,0.03],[17.18,-0.01],[17.19,0.06],[17.2,0.02],[17.21,0.08],[17.22,0.04],[17.23,-0.02],[17.24,0.05],[17.25,0.01],[17.26,0.07],[17.27,0.03],[17.28,0.09],[17.29,0.0],[17.3,0.04],[17.31,0.08],[17.32,0.02],[17.33,0.06],[17.22,0.23],[17.25,0.26],[17.27,0.18],[17.21,-0.32],[17.29,-0.34],[17.36,-0.34],[17.19,-0.09],[17.32,0.13],[17.36,0.14],[17.34,0.03],[17.35,0.07],[17.36,0.02],[17.37,0.06],[17.38,0.1],[17.39,0.04],[17.4,0.08],[17.41,0.01],[17.42,0.05],[17.43,0.09],[17.44,0.03],[17.45,0.07],[17.46,0.0],[17.47,0.05],[17.48,0.08],[17.49,0.02],[17.5,0.06],[17.51,0.1],[17.52,0.04],[17.39,0.11],[17.42,0.15],[17.46,0.15],[17.53,0.08],[17.56,0.25],[17.56,0.21],[17.58,0.14],[17.54,0.02],[17.55,0.06],[17.56,0.0],[17.57,0.04],[17.58,0.08],[17.59,0.01],[17.6,0.05],[17.61,-0.01],[17.62,0.03],[17.63,0.07],[17.64,0.02],[17.65,0.05],[17.66,-0.02],[17.67,0.03],[17.68,0.06],[17.69,0.01],[17.7,0.04],[17.71,0.08],[17.72,0.02],[17.73,0.05],[17.74,0.0],[17.75,0.04],[17.68,0.1],[17.77,-0.3],[17.78,0.13],[17.76,0.05],[17.77,0.09],[17.78,0.03],[17.79,0.07],[17.8,0.1],[17.81,0.04],[17.82,0.08],[17.83,0.01],[17.84,0.06],[17.85,0.1],[17.86,0.03],[17.87,0.07],[17.88,0.02],[17.89,0.05],[17.9,0.09],[17.91,0.04],[17.92,0.07],[17.93,0.0],[17.94,0.05],[17.95,0.08],[17.96,0.03],[17.97,0.06],[17.98,0.1],[17.99,0.02],[17.82,-0.18],[17.85,-0.21],[17.85,0.11],[17.92,0.09],[17.94,0.1],[18.02,-0.4],[18.0,0.06],[18.01,0.1],[18.02,0.03],[18.03,0.07],[18.04,0.11],[18.05,0.04],[18.06,0.08],[18.07,0.02],[18.08,0.06],[18.09,0.1],[18.1,0.05],[18.11,0.08],[18.12,0.01],[18.13,0.06],[18.14,0.1],[18.15,0.04],[18.16,0.07],[18.17,0.11],[18.18,0.03],[18.19,0.08],[18.2,0.05],[18.21,0.09],[18.22,0.02],[18.23,0.07],[18.24,0.11],[18.25,0.04],[18.26,0.08],[18.11,-0.43],[18.24,0.16],[18.28,0.33],[18.3,0.23],[18.27,0.22],[18.27,0.08],[18.28,0.12],[18.29,0.06],[18.3,0.1],[18.31,0.14],[18.32,0.07],[18.33,0.11],[18.34,0.04],[18.35,0.09],[18.36,0.13],[18.37,0.06],[18.38,0.1],[18.39,0.15],[18.4,0.08],[18.41,0.12],[18.42,0.05],[18.43,0.1],[18.44,0.14],[18.45,0.07],[18.46,0.11],[18.47,0.16],[18.48,0.09],[18.49,0.13],[18.45,-0.26],[18.5,-0.16],[18.53,0.27],[18.48,0.18],[18.5,0.1],[18.51,0.14],[18.52,0.08],[18.53,0.12],[18.54,0.16],[18.55,0.09],[18.56,0.13],[18.57,0.06],[18.58,0.11],[18.59,0.15],[18.6,0.1],[18.61,0.14],[18.62,0.07],[18.63,0.12],[18.64,0.16],[18.65,0.09],[18.66,0.13],[18.67,0.18],[18.68,0.1],[18.69,0.14],[18.7,0.08],[18.71,0.12],[18.72,0.16],[18.73,0.1],[18.74,0.13],[18.75,0.07],[18.76,0.11],[18.77,0.15],[18.78,0.09],[18.79,0.12],[18.67,0.59],[18.68,0.6],[18.68,0.37],[18.67,0.43],[18.69,0.31],[18.74,0.49],[18.77,0.4],[18.72,0.31],[18.73,-0.21],[18.83,-0.23],[18.83,0.24],[18.85,0.25],[18.87,0.3],[18.67,0.05],[18.7,-0.02],[18.8,0.1],[18.81,0.06],[18.82,0.13],[18.83,0.08],[18.84,0.11],[18.85,0.04],[18.86,0.09],[18.87,0.13],[18.88,0.07],[18.89,0.1],[18.9,0.05],[18.91,0.12],[18.92,0.08],[18.93,0.14],[18.94,0.1],[18.95,0.06],[18.96,0.12],[18.97,0.09],[18.98,0.15],[18.99,0.11],[18.98,-0.21],[18.98,0.19],[19.0,0.27],[19.04,0.39],[19.0,0.13],[19.01,0.18],[19.02,0.11],[19.03,0.16],[19.04,0.2],[19.05,0.14],[19.06,0.1],[19.07,0.17],[19.08,0.13],[19.09,0.19],[19.1,0.15],[19.11,0.11],[19.12,0.18],[19.13,0.14],[19.14,0.2],[19.15,0.12],[19.16,0.16],[19.17,0.1],[19.18,0.15],[19.19,0.19],[19.2,0.13],[19.21,0.17],[19.22,0.11],[19.23,0.16],[19.24,0.2],[19.25,0.14],[19.26,0.18],[19.27,0.12],[19.28,0.16],[19.29,0.19],[19.3,0.13],[19.31,0.17],[19.32,0.11],[19.33,0.15],[19.34,0.19],[19.35,0.14],[19.36,0.17],[19.37,0.12],[19.38,0.16],[19.39,0.2],[19.4,0.13],[19.41,0.17],[19.42,0.11],[19.43,0.15],[19.44,0.18],[19.45,0.13],[19.46,0.16],[19.11,0.4],[19.05,0.27],[19.1,0.3],[19.0,-0.18],[19.09,-0.1],[19.23,-0.11],[19.26,0.29],[19.29,0.27],[19.32,0.31],[19.36,0.3],[19.47,0.12],[19.48,0.16],[19.5,0.1],[19.51,0.15],[19.53,0.19],[19.54,0.13],[19.56,0.17],[19.57,0.11],[19.59,0.15],[19.6,0.18],[19.62,0.12],[19.63,0.16],[19.65,0.1],[19.66,0.14],[19.68,0.18],[19.69,0.12],[19.71,0.15],[19.72,0.1],[19.74,0.14],[19.56,-0.2],[19.5,0.2],[19.75,0.16],[19.76,0.1],[19.77,0.2],[19.78,0.13],[19.79,0.06],[19.8,0.17],[19.81,0.11],[19.82,0.21],[19.83,0.14],[19.84,0.08],[19.85,0.18],[19.86,0.12],[19.87,0.04],[19.88,0.15],[19.89,0.2],[19.9,0.1],[19.91,0.16],[19.92,0.07],[19.76,0.25],[19.74,0.0],[19.8,-0.05],[19.83,0.43],[19.88,0.43],[19.87,0.36],[19.89,0.31],[19.85,-0.21],[19.87,-0.17],[19.89,-0.15],[19.96,-0.22],[19.93,0.12],[19.94,0.18],[19.95,0.06],[19.96,0.14],[19.97,0.2],[19.98,0.09],[19.99,0.15],[20.0,0.03],[20.01,0.12],[20.02,0.17],[20.03,0.08],[20.04,0.14],[20.05,0.2],[20.06,0.05],[20.07,0.11],[20.08,0.16],[20.09,0.07],[20.1,0.13],[20.11,0.02],[20.12,0.1],[20.13,0.15],[20.14,0.08],[20.15,0.12],[19.97,0.31],[20.01,0.52],[20.06,0.59],[20.04,0.34],[20.07,0.42],[20.08,0.38],[20.11,0.41],[20.05,-0.25],[20.04,-0.46],[20.08,-0.46],[20.12,0.23],[20.16,0.1],[20.17,0.05],[20.18,0.13],[20.19,0.08],[20.2,0.02],[20.21,0.11],[20.22,0.15],[20.23,0.07],[20.24,0.12],[20.25,0.04],[20.26,0.1],[20.27,0.14],[20.28,0.06],[20.29,0.11],[20.3,0.03],[20.31,0.09],[20.32,0.13],[20.33,0.07],[20.34,0.12],[20.35,0.05],[20.36,0.1],[20.37,0.14],[20.38,0.08],[20.39,0.11],[20.4,0.04],[20.41,0.09],[20.42,0.13],[20.43,0.07],[20.44,0.1],[20.45,0.05],[20.46,0.12],[20.47,0.08],[20.48,0.11],[20.23,0.38],[20.28,0.43],[20.35,0.34],[20.28,0.25],[20.35,0.25],[20.28,-0.07],[20.35,-0.1],[20.41,-0.06],[20.21,-0.18],[20.22,-0.02],[20.38,0.02],[20.49,0.1],[20.5,0.06],[20.52,0.12],[20.53,0.08],[20.55,0.11],[20.56,0.05],[20.58,0.09],[20.59,0.13],[20.61,0.07],[20.62,0.1],[20.64,0.06],[20.65,0.12],[20.67,0.08],[20.68,0.11],[20.7,0.05],[20.71,0.09],[20.73,0.13],[20.74,0.07],[20.76,0.1],[20.77,0.04],[20.79,0.09],[20.8,0.12],[20.82,0.06],[20.83,0.1],[20.85,0.04],[20.8,0.21],[20.64,0.0],[20.86,-0.07],[20.86,0.07],[20.87,0.03],[20.88,0.09],[20.89,0.05],[20.9,0.01],[20.91,0.07],[20.92,0.03],[20.93,0.08],[20.94,0.04],[20.95,0.0],[20.96,0.06],[20.97,0.02],[20.98,0.05],[20.99,-0.01],[21.0,0.04],[21.01,0.0],[20.9,0.19],[20.99,-0.35],[20.99,-0.4],[20.99,-0.44],[20.92,-0.15],[21.02,0.01],[21.03,-0.03],[21.04,0.02],[21.05,-0.04],[21.06,0.0],[21.07,-0.05],[21.08,-0.02],[21.09,-0.06],[21.1,-0.01],[21.11,-0.07],[21.12,-0.03],[21.13,-0.08],[21.14,-0.04],[21.15,-0.09],[21.16,-0.05],[21.17,-0.1],[21.18,-0.06],[21.19,-0.02],[21.2,-0.08],[21.21,-0.11],[21.22,-0.07],[21.23,-0.12],[21.24,-0.08],[21.25,-0.13],[21.26,-0.09],[21.27,-0.14],[21.28,-0.1],[21.29,-0.15],[21.3,-0.11],[21.31,-0.16],[21.32,-0.12],[21.26,-0.26],[21.28,-0.25],[21.33,-0.14],[21.34,-0.18],[21.35,-0.13],[21.36,-0.19],[21.37,-0.15],[21.38,-0.2],[21.39,-0.16],[21.4,-0.21],[21.41,-0.17],[21.42,-0.22],[21.43,-0.18],[21.44,-0.23],[21.45,-0.19],[21.46,-0.24],[21.47,-0.2],[21.48,-0.25],[21.49,-0.27],[21.5,-0.29],[21.51,-0.26],[21.52,-0.28],[21.53,-0.17],[21.54,-0.21],[21.55,-0.15],[21.56,-0.19],[21.57,-0.23],[21.58,-0.17],[21.59,-0.2],[21.6,-0.14],[21.61,-0.18],[21.62,-0.22],[21.63,-0.16],[21.64,-0.2],[21.65,-0.24],[21.66,-0.18],[21.67,-0.21],[21.68,-0.15],[21.69,-0.19],[21.7,-0.23],[21.71,-0.17],[21.72,-0.21],[21.73,-0.25],[21.74,-0.19],[21.75,-0.22],[21.76,-0.16],[21.77,-0.2],[21.78,-0.24],[21.79,-0.18],[21.8,-0.21],[21.81,-0.25],[21.82,-0.19],[21.83,-0.22],[21.84,-0.17],[21.85,-0.21],[21.86,-0.24],[21.87,-0.19],[21.88,-0.22],[21.89,-0.26],[21.9,-0.2],[21.91,-0.23],[21.92,-0.18],[21.93,-0.21],[21.94,-0.25],[21.52,-0.07],[21.61,-0.11],[21.72,-0.3],[21.8,-0.3],[21.89,-0.3],[21.93,-0.3],[21.8,-0.08],[21.9,-0.1],[21.95,-0.12],
[16.11,-0.24],[16.13,-0.06],[16.15,-0.23],[16.17,-0.07],[16.19,-0.22],[16.21,-0.06],[16.23,-0.22],[16.25,-0.04],[16.27,-0.2],[16.29,-0.03],[16.31,-0.19],[16.33,-0.02],[16.35,-0.18],[16.37,-0.01],[16.39,-0.17],[16.41,0.0],[16.43,-0.16],[16.45,0.01],[16.47,-0.14],[16.49,0.02],[16.51,-0.12],[16.53,0.04],[16.55,-0.12],[16.57,0.05],[16.59,-0.11],[16.61,0.05],[16.63,-0.1],[16.71,0.09],[16.73,-0.08],[16.75,0.1],[16.77,-0.08],[16.79,0.09],[16.81,-0.08],[16.83,0.1],[16.85,-0.07],[16.87,0.09],[16.89,-0.08],[16.91,0.09],[16.93,-0.08],[16.95,0.08],[16.97,-0.07],[16.99,0.09],[17.01,-0.08],[17.03,0.1],[17.05,-0.07],[17.07,0.1],[17.09,-0.06],[17.11,0.12],[17.13,-0.05],[17.15,0.13],[17.17,-0.04],[17.19,0.13],[17.21,-0.04],[17.23,0.13],[17.25,-0.04],[17.27,0.14],[17.29,-0.03],[17.31,0.13],[17.33,-0.03],[17.35,0.14],[17.37,-0.03],[17.39,0.14],[17.41,-0.03],[17.43,0.14],[17.45,-0.03],[17.47,0.13],[17.49,-0.04],[17.51,0.13],[17.53,-0.05],[17.55,0.12],[17.57,-0.05],[17.59,0.12],[17.61,-0.05],[17.63,0.11],[17.65,-0.05],[17.67,0.11],[17.69,-0.05],[17.71,0.12],[17.73,-0.04],[17.75,0.12],[17.77,-0.03],[17.79,0.14],[17.81,-0.03],[17.83,0.14],[17.85,-0.03],[17.87,0.14],[17.89,-0.03],[17.91,0.14],[17.93,-0.02],[17.95,0.15],[17.97,-0.02],[17.99,0.15],[18.01,-0.02],[18.03,0.15],[18.05,-0.01],[18.07,0.16],[18.09,-0.01],[18.11,0.16],[18.13,-0.01],[18.15,0.16],[18.17,-0.01],[18.19,0.17],[18.21,0.0],[18.23,0.17],[18.25,0.0],[18.27,0.19],[18.29,0.02],[18.31,0.2],[18.33,0.03],[18.35,0.2],[18.37,0.03],[18.39,0.21],[18.41,0.04],[18.43,0.21],[18.45,0.04],[18.47,0.22],[18.49,0.05],[18.51,0.22],[18.53,0.04],[18.55,0.22],[18.57,0.04],[18.59,0.23],[18.61,0.04],[18.63,0.22],[18.65,0.03],[18.67,0.23],[18.69,0.04],[18.71,0.22],[18.73,0.04],[18.75,0.21],[18.77,0.03],[18.79,0.2],[18.81,0.02],[18.83,0.19],[18.85,0.02],[18.87,0.2],[18.89,0.02],[18.91,0.2],[18.93,0.03],[18.95,0.21],[18.97,0.04],[18.99,0.22],[19.01,0.07],[19.03,0.24],[19.05,0.07],[19.07,0.24],[19.09,0.07],[19.11,0.24],[19.13,0.07],[19.15,0.24],[19.17,0.06],[19.19,0.24],[19.21,0.07],[19.23,0.23],[19.25,0.07],[19.27,0.24],[19.29,0.06],[19.31,0.23],[19.33,0.07],[19.35,0.24],[19.37,0.06],[19.39,0.23],[19.41,0.07],[19.43,0.24],[19.45,0.06],[19.47,0.22],[19.49,0.06],[19.51,0.22],[19.53,0.05],[19.55,0.22],[19.57,0.05],[19.59,0.22],[19.61,0.05],[19.63,0.22],[19.65,0.05],[19.67,0.21],[19.69,0.05],[19.71,0.22],[19.73,0.05],[19.75,0.23],[19.77,0.04],[19.79,0.23],[19.81,0.04],[19.83,0.24],[19.85,0.03],[19.87,0.24],[19.89,0.03],[19.91,0.24],[19.93,0.02],[19.95,0.23],[19.97,0.02],[19.99,0.22],[20.01,0.02],[20.03,0.23],[20.05,0.02],[20.07,0.22],[20.09,0.01],[20.11,0.21],[20.13,0.02],[20.15,0.2],[20.17,0.01],[20.19,0.19],[20.21,0.01],[20.23,0.19],[20.25,0.01],[20.27,0.18],[20.29,0.01],[20.31,0.18],[20.33,0.01],[20.35,0.18],[20.37,0.01],[20.39,0.18],[20.41,0.01],[20.43,0.18],[20.45,0.0],[20.47,0.17],[20.49,0.01],[20.51,0.17],[20.53,0.0],[20.55,0.17],[20.57,0.01],[20.59,0.16],[20.61,0.0],[20.63,0.16],[20.65,0.0],[20.67,0.16],[20.69,0.01],[20.71,0.15],[20.73,0.0],[20.75,0.15],[20.77,0.0],[20.79,0.15],[20.81,-0.01],[20.83,0.14],[20.85,-0.02],[20.87,0.12],[20.89,-0.04],[20.91,0.11],[20.93,-0.04],[20.95,0.1],[20.97,-0.05],[20.99,0.09],[21.01,-0.07],[21.03,0.06],[21.05,-0.09],[21.07,0.04],[21.09,-0.11],[21.11,0.02],[21.13,-0.13],[21.15,0.0],[21.17,-0.15],[21.19,-0.03],[21.21,-0.17],[21.23,-0.05],[21.25,-0.19],[21.27,-0.07],[21.29,-0.2],[21.31,-0.08],[21.33,-0.22],[21.35,-0.1],[21.37,-0.24],[21.39,-0.12],[21.41,-0.26],[21.43,-0.13],[21.45,-0.27],[21.47,-0.15],[21.53,-0.26],[21.55,-0.12],[21.57,-0.28],[21.59,-0.13],[21.61,-0.27],[21.63,-0.12],[21.65,-0.28],[21.67,-0.13],[21.69,-0.27],[21.71,-0.13],[21.73,-0.28],[21.75,-0.14],[21.77,-0.27],[21.79,-0.13],[21.81,-0.28],[21.83,-0.14],[21.85,-0.28],[21.87,-0.15],[21.89,-0.27],[21.91,-0.14],[21.93,-0.27],[21.95,-0.16]];

const p3CO = [[17.87,247.05],[17.88,247.12],[17.88,247.03],[17.89,247.08],[17.89,247.16],[17.9,247.06],[17.9,247.13],[17.91,247.1],[17.91,247.18],[17.92,247.07],[17.93,247.14],[17.94,247.2],[17.95,247.12],[17.96,247.17],[17.97,247.22],[17.98,247.15],[17.99,247.2],[18.0,247.25],[18.01,247.18],[18.02,247.22],[18.04,247.25],[18.05,247.29],[18.06,247.22],[18.07,247.27],[18.08,247.3],[18.09,247.24],[18.1,247.28],[18.12,247.3],[18.14,247.34],[18.15,247.28],[18.17,247.33],[18.18,247.37],[18.2,247.32],[18.22,247.36],[18.24,247.4],[18.25,247.35],[18.27,247.42],[18.28,247.38],[18.3,247.44],[18.31,247.4],[18.33,247.46],[18.34,247.42],[18.36,247.48],[18.37,247.44],[18.39,247.5],[18.4,247.46],[18.44,247.5],[18.48,247.5],[18.5,247.54],[18.52,247.5],[18.55,247.56],[18.58,247.58],[18.6,247.6],[18.62,247.57],[18.64,247.62],[18.66,247.64],[18.68,247.67],[18.69,247.7],[18.78,247.7],[18.8,247.73],[18.81,247.68],[18.89,247.78],[18.9,247.82],[18.91,247.76],[18.93,247.8],[18.94,247.84],[18.95,247.78],[18.96,247.81],[18.01,247.02],[18.11,247.17],[18.21,247.27],[18.32,247.31],[18.42,247.67],[18.5,247.48],[19.0,247.88],[19.01,247.82],[19.02,247.93],[19.04,247.71],[19.05,247.86],[19.1,247.96],[19.12,247.9],[19.14,247.98],[19.16,247.92],[19.18,248.0],[19.2,247.94],[19.22,247.97],[19.1,247.73],[19.26,247.9],[19.28,247.86],[19.3,247.84],[19.33,248.0],[19.35,248.04],[19.37,247.98],[19.39,248.05],[19.41,248.02],[19.43,248.08],[19.45,248.04],[19.47,248.1],[19.49,248.06],[19.51,248.12],[19.53,248.08],[19.55,248.13],[19.57,248.18],[19.59,248.14],[19.61,248.2],[19.63,248.16],[19.65,248.22],[19.67,248.18],[19.69,248.24],[19.71,248.2],[19.73,248.26],[19.75,248.22],[19.77,248.28],[19.79,248.24],[19.81,248.3],[19.83,248.26],[19.85,248.31],[19.87,248.27],[19.89,248.33],[19.91,248.29],[19.93,248.34],[19.95,248.3],[19.97,248.36],[19.99,248.32],[20.01,248.38],[20.03,248.34],[20.05,248.4],[20.07,248.36],[20.09,248.42],[20.11,248.38],[20.13,248.43],[20.15,248.39],[20.17,248.45],[20.19,248.41],[20.21,248.46],[20.23,248.42],[20.25,248.48],[20.27,248.44],[20.29,248.5],[20.31,248.46],[20.33,248.51],[20.35,248.47],[20.37,248.52],[20.39,248.48],[20.41,248.54],[20.43,248.5],[20.45,248.55],[20.47,248.51],[20.49,248.56],[20.51,248.6],[20.53,248.55],[20.55,248.59],[20.57,248.62],[20.59,248.57],[20.61,248.6],[20.63,248.56],[20.65,248.61],[20.66,248.58],[19.79,248.06],[20.21,248.15],[20.33,248.27],[20.53,248.4],[20.82,248.63],[20.82,248.55],[20.83,248.59],[20.92,248.75],[20.92,248.62],[20.93,248.55],[20.93,248.5],[20.94,248.68],[20.94,248.58],[20.95,248.52],[21.54,248.72],[21.54,248.64],[21.55,248.68],[21.61,248.69],[21.61,248.65],[21.62,248.67],
[17.9,247.2],[17.95,247.04],[18.0,247.3],[18.05,247.15],[18.1,247.36],[18.15,247.24],[18.2,247.42],[18.25,247.3],[18.3,247.5],[18.35,247.36],[18.4,247.55],[19.34,248.1],[19.38,247.94],[19.42,248.14],[19.46,247.98],[19.5,248.18],[19.54,248.02],[19.58,248.24],[19.62,248.1],[19.66,248.28],[19.7,248.14],[19.74,248.32],[19.78,248.18],[19.82,248.36],[19.86,248.22],[19.9,248.39],[19.94,248.25],[19.98,248.41],[20.02,248.29],[20.06,248.45],[20.1,248.32],[20.14,248.48],[20.18,248.36],[20.22,248.52],[20.26,248.4],[20.3,248.56],[20.34,248.42],[20.38,248.58],[20.42,248.46],[20.46,248.6],[20.5,248.5],[20.54,248.64],[20.58,248.52],[20.62,248.65],[20.65,248.54]];

const p3Trend = [[17.87,-0.12],[17.87,-0.18],[17.88,-0.08],[17.88,-0.15],[17.88,-0.22],[17.89,-0.1],[17.89,-0.17],[17.9,-0.06],[17.9,-0.13],[17.91,-0.2],[17.91,-0.09],[17.92,-0.14],[17.93,-0.07],[17.94,-0.1],[17.95,-0.05],[17.96,-0.09],[17.97,-0.06],[17.98,-0.11],[17.99,-0.08],[18.0,-0.05],[18.01,-0.1],[18.02,-0.07],[17.95,-0.02],[18.01,-0.17],[18.01,-0.27],[18.04,-0.06],[18.05,-0.03],[18.06,-0.08],[18.07,-0.04],[18.08,-0.07],[18.09,-0.02],[18.03,-0.1],[18.11,-0.02],[18.12,0.01],[18.13,-0.03],[18.14,0.0],[18.15,-0.02],[18.16,0.02],[18.17,-0.01],[18.18,0.03],[18.19,0.0],[18.2,0.04],[18.21,0.01],[18.22,0.05],[18.23,0.02],[18.24,0.04],[18.25,0.01],[18.1,0.015],[18.1,-0.18],[18.2,-0.12],[18.22,0.08],[18.24,0.06],[18.27,0.03],[18.28,0.01],[18.29,0.04],[18.3,0.0],[18.31,0.03],[18.32,0.05],[18.33,0.02],[18.34,0.04],[18.35,0.01],[18.36,0.03],[18.37,0.05],[18.38,0.02],[18.39,0.04],[18.4,0.01],[18.42,0.15],[18.5,0.0],[18.51,-0.03],[18.52,0.01],[18.53,-0.02],[18.55,0.02],[18.57,-0.01],[18.59,0.01],[18.61,-0.03],[18.62,0.02],[18.64,0.0],[18.53,0.08],[18.57,0.07],[18.5,0.06],[18.46,0.09],[18.6,0.03],[18.63,0.05],[18.65,0.02],[18.67,0.04],[18.68,0.06],[18.69,0.03],[18.77,0.04],[18.78,0.01],[18.79,0.03],[18.8,0.0],[18.81,0.02],[18.9,0.16],[18.9,0.05],[18.91,0.03],[18.92,0.06],[18.93,0.04],[18.94,0.07],[18.95,0.05],[18.96,0.03],[19.03,0.14],[19.03,-0.08],[19.06,-0.09],[19.05,0.1],[19.0,0.08],[19.01,0.04],[19.02,0.11],[19.03,0.06],[19.04,0.09],[19.05,0.03],[19.06,0.07],[19.07,0.12],[19.08,0.05],[19.09,0.09],[19.1,0.06],[19.11,0.1],[19.12,0.04],[19.13,0.08],[19.14,0.11],[19.15,0.05],[19.16,0.09],[19.17,0.07],[19.18,0.1],[19.19,0.04],[19.2,0.08],[19.21,0.06],[19.22,0.09],[19.23,0.05],[19.24,0.07],[19.25,0.03],[19.26,0.06],[19.27,0.04],[19.11,0.215],[19.11,-0.08],[19.18,-0.08],[19.04,-0.08],[19.28,-0.05],[19.3,0.06],[19.31,0.03],[19.32,0.05],[19.33,0.02],[19.35,0.06],[19.36,0.04],[19.37,0.07],[19.38,0.03],[19.4,0.05],[19.41,0.02],[19.42,0.06],[19.44,0.04],[19.45,0.07],[19.46,0.03],[19.48,0.05],[19.49,0.02],[19.5,0.06],[19.52,0.04],[19.58,0.16],[19.56,-0.14],[19.64,-0.08],[19.37,-0.04],[19.56,0.06],[19.57,0.03],[19.58,0.07],[19.59,0.04],[19.6,0.08],[19.61,0.05],[19.62,0.02],[19.63,0.06],[19.64,0.03],[19.65,0.07],[19.66,0.04],[19.67,0.08],[19.68,0.05],[19.69,0.02],[19.7,0.06],[19.72,0.05],[19.73,0.02],[19.74,0.06],[19.75,0.03],[19.76,0.0],[19.77,0.04],[19.78,0.06],[19.79,0.02],[19.8,0.05],[19.81,0.01],[19.82,0.04],[19.83,0.02],[19.84,0.05],[19.85,0.0],[19.86,0.03],[19.87,0.06],[19.88,0.02],[19.89,0.04],[19.9,0.01],[19.91,0.03],[19.92,0.05],[19.93,0.01],[19.94,0.03],[19.95,-0.01],[19.96,0.02],[19.97,0.04],[19.98,0.0],[19.99,0.02],[19.79,-0.09],[19.95,-0.05],[19.7,-0.06],[20.0,0.04],[20.01,0.01],[20.02,0.05],[20.03,0.02],[20.04,0.0],[20.05,0.04],[20.06,0.02],[20.07,0.05],[20.08,0.01],[20.09,0.03],[20.1,0.06],[20.11,0.02],[20.12,0.04],[20.13,0.0],[20.14,0.03],[20.15,0.05],[20.19,0.02],[20.21,0.0],[20.22,0.03],[20.24,0.01],[20.25,0.04],[20.27,0.0],[20.28,0.02],[20.3,0.05],[20.31,0.01],[20.33,0.03],[20.34,0.0],[20.36,0.02],[20.37,0.04],[20.39,0.01],[20.4,0.03],[20.42,0.0],[20.43,0.02],[20.45,0.04],[20.46,0.01],[20.48,0.03],[20.21,-0.11],[20.2,-0.22],[20.33,-0.14],[20.33,0.05],[20.5,0.0],[20.51,0.03],[20.52,0.01],[20.54,0.04],[20.55,0.0],[20.57,0.02],[20.58,-0.01],[20.6,0.03],[20.61,0.0],[20.63,0.02],[20.64,-0.01],[20.65,0.01],[20.53,0.1],[20.55,-0.11],[20.57,-0.1],[20.63,0.05],[20.82,-0.04],[20.82,-0.06],[20.82,-0.11],[20.83,-0.05],[20.93,0.03],[20.93,-0.06],[20.94,-0.08],[20.94,-0.11],[20.94,-0.14],[20.95,-0.16],[20.95,-0.18],[20.95,-0.2],[20.94,-0.12],[21.54,-0.29],[21.54,-0.31],[21.55,-0.37],[21.6,-0.33],[21.61,-0.38],[21.61,-0.4],[21.62,-0.41]];

const p4CO = [[18.0,120.42],[18.0,120.5],[18.01,120.38],[18.01,120.55],[18.02,120.45],[18.03,120.52],[18.03,120.4],[18.08,120.58],[18.09,120.64],[18.1,120.6],[18.11,120.68],[18.12,120.63],[18.17,120.75],[18.18,120.8],[18.19,120.76],[18.2,120.84],[18.21,120.8],[18.22,120.87],[18.24,120.86],[18.25,120.92],[18.26,120.88],[18.27,120.95],[18.28,120.9],[18.29,120.96],[18.3,120.92],[18.31,120.98],[18.32,120.94],[18.33,121.0],[18.34,120.96],[18.35,121.02],[18.38,121.04],[18.39,121.08],[18.4,121.05],[18.41,121.1],[18.42,121.07],[18.5,121.18],[18.5,121.25],[18.55,121.28],[18.57,121.32],[18.59,121.3],[18.61,121.35],[18.63,121.33],[18.65,121.38],[18.69,121.42],[18.7,121.47],[18.79,121.53],[18.8,121.58],[18.81,121.55],[18.9,121.68],[18.91,121.72],[18.92,121.7],[18.93,121.74],[18.94,121.71],[19.02,121.85],[19.03,121.84],[19.04,121.9],[19.05,121.9],[19.06,121.86],[19.08,121.92],[19.1,121.88],[19.13,121.95],[19.15,122.0],[19.17,121.97],[19.19,122.03],[19.21,121.99],[19.23,122.04],[19.25,122.0],[19.27,122.06],[19.35,122.15],[19.37,122.2],[19.39,122.17],[19.41,122.22],[19.43,122.19],[19.45,122.25],[19.47,122.22],[19.49,122.28],[19.51,122.25],[19.53,122.3],[19.55,122.4],[19.57,122.45],[19.59,122.42],[19.61,122.47],[19.63,122.44],[19.65,122.5],[19.67,122.46],[19.69,122.52],[19.71,122.49],[19.73,122.55],[19.75,122.52],[19.77,122.58],[19.79,122.63],[19.81,122.6],[19.83,122.66],[19.85,122.63],[19.87,122.69],[19.89,122.66],[19.91,122.72],[19.93,122.69],[19.95,122.75],[19.97,122.72],[19.99,122.78],[20.01,122.83],[20.03,122.8],[20.05,122.86],[20.07,122.83],[20.09,122.89],[20.11,122.86],[20.13,122.92],[20.15,122.89],[20.17,122.95],[20.19,122.92],[20.21,122.97],[20.23,123.02],[20.25,122.99],[20.27,123.05],[20.29,123.02],[20.31,123.08],[20.33,123.05],[20.35,123.1],[20.37,123.07],[20.39,123.13],[20.41,123.1],[20.43,123.15],[20.46,123.18],[20.48,123.23],[20.5,123.2],[20.52,123.26],[20.54,123.23],[20.56,123.28],[20.58,123.25],[20.6,123.31],[20.62,123.28],[20.64,123.33],[20.66,123.3],[20.82,123.52],[20.82,123.42],[20.83,123.47],[20.91,123.6],[20.92,123.58],[20.93,123.62],[20.94,123.6],[21.54,124.29],[21.54,124.21],[21.55,124.14],[21.55,124.24],[21.61,124.12],[21.62,124.17],[21.62,124.1],[19.56,121.98],[19.65,122.29],[19.8,122.37],[20.21,122.71],[20.33,122.9],[20.56,123.13],[19.1,121.83],[18.33,120.83],[18.49,121.06]];

const p4Trend = [[17.99,-0.28],[17.99,-0.25],[18.0,-0.23],[18.0,-0.2],[18.01,-0.17],[18.02,-0.2],[18.02,-0.15],[18.03,-0.22],[18.04,-0.18],[18.05,-0.16],[18.06,-0.19],[18.03,-0.14],[18.1,-0.08],[18.11,-0.12],[18.12,-0.09],[18.13,-0.1],[18.15,-0.06],[18.16,-0.05],[18.17,-0.07],[18.18,-0.05],[18.19,-0.06],[18.2,-0.04],[18.21,-0.06],[18.22,-0.05],[18.23,-0.03],[18.25,-0.05],[18.16,-0.14],[18.2,0.016],[18.24,-0.155],[18.27,-0.01],[18.28,-0.03],[18.29,0.0],[18.3,-0.02],[18.31,-0.04],[18.32,-0.01],[18.33,-0.03],[18.34,0.0],[18.35,-0.02],[18.36,-0.01],[18.37,-0.03],[18.38,0.0],[18.28,0.03],[18.32,-0.12],[18.38,-0.12],[18.36,-0.16],[18.41,0.05],[18.43,0.03],[18.44,0.0],[18.5,0.06],[18.49,0.04],[18.49,-0.1],[18.53,0.02],[18.55,0.0],[18.57,0.03],[18.59,0.01],[18.61,0.02],[18.63,0.0],[18.64,0.03],[18.59,-0.08],[18.68,0.04],[18.68,0.0],[18.77,0.07],[18.78,0.05],[18.79,0.08],[18.8,0.06],[18.81,0.09],[18.8,-0.01],[18.9,0.07],[18.91,0.08],[18.92,0.06],[18.93,0.08],[18.94,0.07],[19.03,0.13],[19.03,0.09],[19.03,-0.03],[19.04,0.05],[19.0,0.08],[19.01,0.11],[19.02,0.06],[19.03,0.1],[19.04,0.12],[19.05,0.07],[19.06,0.1],[19.07,0.12],[19.08,0.08],[19.09,0.11],[19.1,0.06],[19.11,0.09],[19.12,0.12],[19.13,0.07],[19.14,0.1],[19.15,0.08],[19.16,0.11],[19.17,0.06],[19.18,0.09],[19.04,-0.02],[19.11,-0.07],[19.04,0.13],[19.12,0.14],[19.08,-0.01],[19.2,0.06],[19.22,0.08],[19.24,0.05],[19.26,0.07],[19.28,0.05],[19.3,0.07],[19.32,0.04],[19.34,0.06],[19.28,0.03],[19.36,0.05],[19.38,0.07],[19.4,0.04],[19.42,0.06],[19.44,0.05],[19.46,0.07],[19.48,0.04],[19.5,0.06],[19.52,0.05],[19.53,0.07],[19.48,0.13],[19.47,-0.007],[19.37,0.0],[19.42,0.02],[19.56,0.09],[19.57,0.1],[19.58,0.08],[19.59,0.1],[19.6,0.09],[19.61,0.11],[19.62,0.08],[19.63,0.1],[19.64,0.09],[19.65,0.07],[19.66,0.08],[19.67,0.09],[19.68,0.07],[19.69,0.08],[19.65,-0.09],[19.6,0.12],[19.7,0.06],[19.72,0.07],[19.74,0.05],[19.76,0.06],[19.78,0.04],[19.75,0.095],[19.75,-0.04],[19.8,-0.11],[19.8,0.04],[19.81,0.02],[19.82,0.05],[19.83,0.03],[19.84,0.01],[19.85,0.04],[19.86,0.02],[19.87,0.05],[19.88,0.03],[19.89,0.01],[19.9,0.04],[19.91,0.02],[19.92,0.03],[19.93,0.05],[19.94,0.01],[19.95,0.03],[19.96,0.02],[19.97,0.04],[19.89,0.076],[19.98,0.03],[19.99,0.01],[20.0,0.03],[20.01,0.02],[20.02,0.04],[20.03,0.01],[20.04,0.03],[20.05,0.0],[20.06,0.02],[20.07,0.04],[20.08,0.01],[20.09,0.03],[20.1,0.02],[20.11,0.0],[20.12,0.02],[20.13,0.03],[20.14,0.01],[20.15,0.02],[20.16,0.0],[20.07,0.085],[20.05,-0.03],[20.02,-0.01],[20.07,-0.05],[20.17,-0.01],[20.18,-0.02],[20.19,0.0],[20.2,-0.03],[20.21,-0.01],[20.22,-0.02],[20.23,-0.04],[20.24,-0.01],[20.25,-0.03],[20.26,-0.02],[20.27,-0.04],[20.28,-0.01],[20.29,-0.03],[20.2,-0.26],[20.22,-0.13],[20.26,-0.07],[20.3,-0.02],[20.31,-0.04],[20.32,-0.01],[20.33,-0.03],[20.34,-0.02],[20.35,-0.04],[20.36,-0.02],[20.37,-0.03],[20.38,-0.01],[20.39,-0.03],[20.4,-0.04],[20.41,-0.02],[20.42,-0.03],[20.43,-0.05],[20.34,-0.1],[20.33,-0.16],[20.39,-0.09],[20.35,0.03],[20.46,-0.03],[20.47,-0.02],[20.48,-0.04],[20.49,-0.03],[20.5,-0.05],[20.51,-0.03],[20.52,-0.04],[20.53,-0.02],[20.54,-0.05],[20.55,-0.04],[20.56,-0.06],[20.57,-0.04],[20.58,-0.05],[20.59,-0.07],[20.6,-0.05],[20.61,-0.06],[20.62,-0.07],[20.63,-0.06],[20.57,-0.19],[20.53,0.02],[20.47,0.01],[20.82,-0.08],[20.82,-0.11],[20.83,-0.12],[20.82,-0.18],[20.91,-0.06],[20.92,-0.1],[20.93,-0.11],[20.93,-0.12],[20.94,-0.13],[20.92,-0.14],[20.94,-0.16],[21.54,-0.08],[21.54,-0.15],[21.54,-0.24],[21.55,-0.25],[21.61,-0.24],[21.61,-0.29]];

const p5CO = [[16.01,73.73],[16.01,73.57],[16.02,73.65],[16.16,73.85],[16.17,73.95],[16.18,73.88],[16.19,73.97],[16.2,73.9],[16.21,74.0],[16.22,73.93],[16.23,74.02],[16.24,73.96],[16.25,74.05],[16.26,73.98],[16.27,74.07],[16.28,74.01],[16.29,74.1],[16.3,74.06],[16.32,74.12],[16.34,74.09],[16.36,74.15],[16.38,74.12],[16.4,74.18],[16.42,74.15],[16.44,74.22],[16.46,74.18],[16.48,74.25],[16.5,74.22],[16.52,74.3],[16.54,74.36],[16.56,74.33],[16.58,74.4],[16.6,74.37],[16.62,74.44],[16.64,74.4],[16.66,74.47],[16.68,74.5],[16.7,74.58],[16.72,74.64],[16.74,74.6],[16.76,74.68],[16.78,74.64],[16.8,74.72],[16.82,74.68],[16.84,74.76],[16.86,74.72],[16.88,74.8],[16.9,74.85],[16.92,74.92],[16.94,74.88],[16.96,74.95],[16.98,74.92],[17.0,75.0],[17.02,74.97],[17.04,75.05],[17.06,75.02],[17.08,75.1],[17.1,75.06],[17.12,75.14],[17.14,75.2],[17.16,75.17],[17.18,75.24],[17.2,75.21],[17.22,75.28],[17.24,75.25],[17.26,75.32],[17.28,75.29],[17.3,75.36],[17.32,75.33],[17.34,75.4],[17.36,75.42],[17.38,75.48],[17.4,75.45],[17.42,75.52],[17.44,75.49],[17.46,75.56],[17.48,75.53],[17.5,75.6],[17.52,75.57],[17.54,75.64],[17.56,75.78],[17.57,75.64],[16.82,74.45],[17.65,75.86],[17.66,75.9],[17.72,75.94],[17.73,75.98],[17.79,75.98],[17.8,76.02],[17.89,76.06],[17.9,76.1],[18.0,76.17],[18.01,76.24],[18.1,76.27],[18.11,76.3],[18.15,76.32],[18.21,76.37],[18.22,76.42],[18.33,76.47],[18.34,76.5],[18.39,76.55],[18.44,76.63],[18.45,76.58],[18.58,76.78],[18.58,76.72],[18.69,76.85],[18.69,76.9],[18.77,76.96],[18.78,76.9],[18.82,77.0],[18.83,77.05],[18.95,77.13],[18.95,77.05],[19.0,77.24],[19.01,77.18],[19.12,77.34],[19.02,77.24],[19.03,77.3],[19.13,77.39],[19.14,77.42],[19.17,77.44],[19.27,77.62],[19.28,77.66],[19.34,77.65],[19.35,77.6],[19.42,77.77],[19.43,77.74],[19.65,77.92],[19.65,77.77],[19.66,77.97],[19.68,78.03],[19.83,78.23],[19.84,78.26],[20.14,78.61],[20.15,78.65],[20.42,78.92],[20.42,78.97],[20.64,79.19],[20.64,79.14],[20.77,79.37],[20.77,79.42],[20.83,79.42],[20.83,79.27],[20.84,79.32],[20.98,79.63],[20.98,79.6],[21.2,79.91],[21.2,79.95],[21.54,80.32],[21.55,80.3],[21.61,80.4],[21.62,80.43],[21.85,80.67],[21.85,80.7],
[16.31,74.16],[16.33,74.05],[16.35,74.2],[16.37,74.08],[16.39,74.24],[16.41,74.12],[16.43,74.27],[16.45,74.15],[16.47,74.31],[16.49,74.19],[16.51,74.36],[16.53,74.26],[16.55,74.42],[16.57,74.3],[16.59,74.46],[16.61,74.34],[16.63,74.5],[16.65,74.38],[16.67,74.54],[16.69,74.52],[16.71,74.68],[16.73,74.56],[16.75,74.72],[16.77,74.6],[16.79,74.76],[16.81,74.64],[16.83,74.8],[16.85,74.68],[16.87,74.84],[16.89,74.78],[16.91,74.96],[16.93,74.84],[16.95,75.0],[16.97,74.88],[16.99,75.05],[17.01,74.93],[17.03,75.1],[17.05,74.98],[17.07,75.14],[17.09,75.03],[17.11,75.18],[17.13,75.1],[17.15,75.25],[17.17,75.13],[17.19,75.29],[17.21,75.17],[17.23,75.33],[17.25,75.21],[17.27,75.37],[17.29,75.25],[17.31,75.41],[17.33,75.29],[17.35,75.45],[17.37,75.37],[17.39,75.53],[17.41,75.41],[17.43,75.57],[17.45,75.45],[17.47,75.6],[17.49,75.49],[17.51,75.64],[17.53,75.53]];

const p5Trend = [[16.01,-0.1],[16.01,-0.12],[16.01,-0.14],[16.02,-0.15],[16.01,-0.19],[16.02,-0.11],[16.0,-0.13],[16.17,-0.1],[16.18,-0.13],[16.19,-0.16],[16.2,-0.11],[16.21,-0.14],[16.22,-0.09],[16.23,-0.12],[16.24,-0.15],[16.25,-0.1],[16.21,0.035],[16.22,0.01],[16.18,-0.01],[16.2,-0.04],[16.26,-0.08],[16.27,-0.12],[16.28,-0.06],[16.29,-0.1],[16.3,-0.05],[16.31,-0.08],[16.32,-0.04],[16.33,-0.07],[16.34,-0.1],[16.35,-0.05],[16.36,-0.08],[16.37,-0.06],[16.26,-0.02],[16.25,-0.1],[16.39,0.15],[16.41,0.1],[16.39,-0.14],[16.4,-0.04],[16.41,-0.06],[16.42,-0.02],[16.43,-0.05],[16.44,-0.03],[16.45,-0.07],[16.46,-0.04],[16.47,-0.02],[16.48,-0.05],[16.49,-0.03],[16.5,-0.06],[16.51,-0.02],[16.52,-0.04],[16.53,-0.01],[16.54,-0.03],[16.55,-0.05],[16.56,-0.02],[16.57,-0.04],[16.58,0.0],[16.59,-0.02],[16.46,-0.11],[16.47,-0.13],[16.46,0.01],[16.6,0.0],[16.61,0.02],[16.62,-0.01],[16.63,0.01],[16.64,0.03],[16.65,0.0],[16.66,0.02],[16.67,-0.01],[16.68,0.01],[16.61,0.065],[16.69,0.0],[16.7,0.02],[16.71,-0.02],[16.72,0.01],[16.73,-0.01],[16.74,0.03],[16.75,0.0],[16.76,-0.02],[16.77,0.01],[16.7,0.09],[16.78,0.03],[16.79,0.05],[16.8,0.01],[16.81,0.04],[16.82,0.02],[16.83,0.06],[16.84,0.0],[16.85,0.03],[16.86,0.05],[16.87,0.01],[16.83,0.11],[16.8,0.11],[16.75,-0.055],[16.82,-0.215],[16.88,0.04],[16.89,0.03],[16.9,0.05],[16.91,0.02],[16.92,0.04],[16.93,0.06],[16.94,0.03],[16.95,0.05],[16.96,0.02],[16.97,0.04],[16.9,-0.08],[16.94,0.065],[16.98,0.03],[16.99,0.05],[17.0,0.01],[17.01,0.04],[17.02,0.06],[17.03,0.02],[17.04,0.04],[17.05,0.0],[17.06,0.03],[17.07,0.05],[17.08,0.02],[17.09,0.04],[17.1,0.06],[16.98,0.2],[17.0,0.11],[17.05,0.12],[17.02,-0.02],[17.09,-0.06],[17.11,0.05],[17.12,0.07],[17.13,0.04],[17.14,0.08],[17.15,0.05],[17.16,0.07],[17.17,0.03],[17.18,0.06],[17.19,0.08],[17.2,0.05],[17.21,0.07],[17.22,0.04],[17.23,0.06],[17.24,0.08],[17.16,0.11],[17.2,0.19],[17.21,0.01],[17.23,0.01],[17.25,0.06],[17.26,0.08],[17.27,0.05],[17.28,0.07],[17.29,0.09],[17.3,0.06],[17.31,0.08],[17.32,0.05],[17.33,0.07],[17.34,0.09],[17.35,0.06],[17.36,0.08],[17.37,0.05],[17.38,0.07],[17.39,0.09],[17.4,0.06],[17.28,0.15],[17.29,0.12],[17.36,0.15],[17.27,0.02],[17.41,0.08],[17.42,0.1],[17.43,0.07],[17.44,0.09],[17.45,0.11],[17.46,0.08],[17.47,0.1],[17.48,0.07],[17.49,0.09],[17.5,0.11],[17.51,0.08],[17.52,0.1],[17.46,0.11],[17.53,0.12],[17.55,0.16],[17.56,0.02],[17.54,0.065],[17.65,0.16],[17.66,0.11],[17.72,0.13],[17.72,0.09],[17.79,0.11],[17.8,0.09],[17.8,0.03],[17.89,0.085],[17.89,0.065],[18.01,0.13],[18.0,0.05],[17.99,0.03],[18.11,0.02],[18.13,0.01],[18.15,0.0],[18.21,0.03],[18.21,0.02],[18.11,-0.06],[18.32,-0.16],[18.33,-0.036],[18.39,0.02],[18.4,0.0],[18.39,-0.07],[18.44,-0.01],[18.58,0.005],[18.58,-0.04],[18.68,-0.02],[18.68,-0.096],[18.77,-0.06],[18.77,-0.13],[18.81,-0.04],[18.82,-0.06],[18.95,-0.055],[18.95,-0.2],[19.0,-0.03],[19.0,-0.11],[19.0,-0.08],[19.13,-0.045],[19.14,-0.06],[19.16,-0.075],[19.17,-0.05],[19.13,-0.12],[19.17,-0.11],[19.26,0.0],[19.27,-0.01],[19.27,-0.05],[19.28,-0.02],[19.34,-0.01],[19.35,-0.02],[19.34,-0.04],[19.34,-0.1],[19.42,0.0],[19.42,-0.01],[19.42,-0.03],[19.43,-0.05],[19.64,-0.03],[19.64,-0.04],[19.65,-0.05],[19.65,-0.06],[19.66,-0.065],[19.67,-0.05],[19.65,-0.08],[19.66,-0.09],[19.64,-0.28],[19.83,0.0],[19.83,-0.01],[19.83,-0.03],[19.83,-0.04],[19.84,-0.05],[19.83,-0.1],[20.14,0.0],[20.14,-0.04],[20.14,-0.05],[20.15,-0.065],[20.42,-0.04],[20.42,-0.05],[20.42,-0.11],[20.64,-0.036],[20.64,-0.06],[20.77,-0.01],[20.77,-0.015],[20.77,-0.02],[20.82,0.037],[20.83,-0.05],[20.83,-0.065],[20.83,-0.144],[20.98,0.0],[20.98,-0.02],[20.98,-0.03],[21.2,0.02],[21.2,0.0],[21.2,-0.045],[21.54,0.04],[21.54,0.03],[21.55,0.0],[21.61,0.03],[21.61,0.0],[21.62,-0.02],[21.85,0.025],[21.85,-0.02],[21.85,-0.05]];

// ---------- layout / styles ----------
const panelTops = [7, 335, 662, 989, 1316];
const legendLayout = [
  {box:557, dia:820, dy:31},
  {box:584, dia:824, dy:34},
  {box:584, dia:824, dy:34},
  {box:603, dia:655.5, dy:36},
  {box:584, dia:824, dy:35}
];
const panels = [
  {co:p1CO, trend:p1Trend, left:p1Left, right:p1Right, leftFmt:"d"},
  {co:p2CO, trend:p2Trend, left:p2Left, right:p2Right, leftFmt:".1f"},
  {co:p3CO, trend:p3Trend, left:p3Left, right:p3Right, leftFmt:".1f"},
  {co:p4CO, trend:p4Trend, left:p4Left, right:p4Right, leftFmt:".1f"},
  {co:p5CO, trend:p5Trend, left:p5Left, right:p5Right, leftFmt:".1f"}
];
const RED = "#C00000", GRAY = "#A6A6A6", LINE = "#8A8A8A";
const loc = d3.formatLocale({decimal:".", thousands:",", grouping:[3], currency:["",""], minus:"-"});
const toDate = v => { const y = 2000 + Math.floor(v), f = v - Math.floor(v);
  const s = Date.UTC(y,0,1), e = Date.UTC(y+1,0,1); return new Date(s + f*(e-s)); };

const svg = d3.select("#chart");
const X0 = 86.5, X1 = 1091;
const x = d3.scaleUtc().domain([new Date(Date.UTC(2016,0,1)), new Date(Date.UTC(2022,1,7))]).range([X0, X1]);
const sq = d3.symbol().type(d3.symbolSquare).size(110)();
const dia = d3.symbol().type(d3.symbolDiamond2).size(18)();

panels.forEach((p, i) => {
  const top = panelTops[i];
  const g = svg.append("g");
  const yT = top + 61.5, yB = top + 278.5;
  g.append("rect").attr("x",5.5).attr("y",top+0.5).attr("width",1174).attr("height",315)
    .attr("fill","#fff").attr("stroke","#A0A0A0").attr("stroke-width",1.2);

  const yl = d3.scaleLinear().domain(d3.extent(p.left)).range([yB, yT]);
  const yr = d3.scaleLinear().domain(d3.extent(p.right)).range([yB, yT]);

  g.append("g").selectAll("line").data(p.left).join("line")
    .attr("x1",X0).attr("x2",X1).attr("y1",d=>yl(d)).attr("y2",d=>yl(d))
    .attr("stroke",LINE).attr("stroke-width",1.3);

  const ax = g.append("g").attr("transform",`translate(0,${yB})`)
    .call(d3.axisBottom(x).ticks(d3.utcMonth.every(6)).tickFormat(d3.utcFormat("%m/%y")).tickSize(4).tickSizeOuter(0));
  ax.selectAll("text").attr("y",18).attr("dy","0.35em");
  const al = g.append("g").attr("transform",`translate(${X0},0)`)
    .call(d3.axisLeft(yl).tickValues(p.left).tickFormat(loc.format(p.leftFmt)).tickSize(4).tickSizeOuter(0));
  al.selectAll("text").attr("x",-13.5).attr("dy","0.35em");
  const ar = g.append("g").attr("transform",`translate(${X1},0)`)
    .call(d3.axisRight(yr).tickValues(p.right).tickFormat(loc.format(".1f")).tickSize(5).tickSizeOuter(0));
  ar.selectAll("text").attr("x",12).attr("dy","0.35em");
  [ax,al,ar].forEach(a => {
    a.select(".domain").attr("stroke",LINE).attr("stroke-width",1.3);
    a.selectAll(".tick line").attr("stroke",LINE).attr("stroke-width",1.3);
    a.selectAll("text").attr("font-size",13).attr("fill","#3a3a3a").attr("font-family","Lato, 'Open Sans', sans-serif");
  });

  g.append("g").selectAll("path").data(p.co).join("path")
    .attr("d",sq).attr("transform",d=>`translate(${x(toDate(d[0]))},${yl(d[1])})`)
    .attr("fill","none").attr("stroke",RED).attr("stroke-width",1.9);
  g.append("g").selectAll("path").data(p.trend).join("path")
    .attr("d",dia).attr("transform",d=>`translate(${x(toDate(d[0]))},${yr(d[1])})`)
    .attr("fill","none").attr("stroke",GRAY).attr("stroke-width",1.15);

  g.append("text").attr("x",91).attr("y",top+31).attr("dy","0.36em")
    .attr("font-size",22).attr("font-weight","bold").attr("fill","#111").text(titles[i]);
  g.append("text").attr("transform",`translate(25,${(yT+yB)/2+2}) rotate(-90)`)
    .attr("text-anchor","middle").attr("dy","0.35em").attr("font-size",15).attr("font-weight","bold").attr("fill","#111").text("CO [ppb]");
  g.append("text").attr("transform",`translate(1141.5,${(yT+yB)/2}) rotate(-90)`)
    .attr("text-anchor","middle").attr("dy","0.35em").attr("font-size",13.5).attr("font-weight","bold").attr("fill","#111").text("deviation from trend [ppb]");

  const L = legendLayout[i], ly = top + L.dy;
  g.append("path").attr("d",d3.symbol().type(d3.symbolSquare).size(110)()).attr("transform",`translate(${L.box},${ly})`)
    .attr("fill","none").attr("stroke",RED).attr("stroke-width",1.5);
  g.append("text").attr("x",L.box+9.5).attr("y",ly).attr("dy","0.35em").attr("font-size",15).attr("fill","#111").text(seriesNames[0]);
  g.append("path").attr("d",d3.symbol().type(d3.symbolDiamond2).size(14)()).attr("transform",`translate(${L.dia},${ly})`)
    .attr("fill","none").attr("stroke",GRAY).attr("stroke-width",1.1);
  g.append("text").attr("x",L.dia+10.5).attr("y",ly).attr("dy","0.35em").attr("font-size",15).attr("fill","#111").text(seriesNames[1]);
});
</script></body></html>
